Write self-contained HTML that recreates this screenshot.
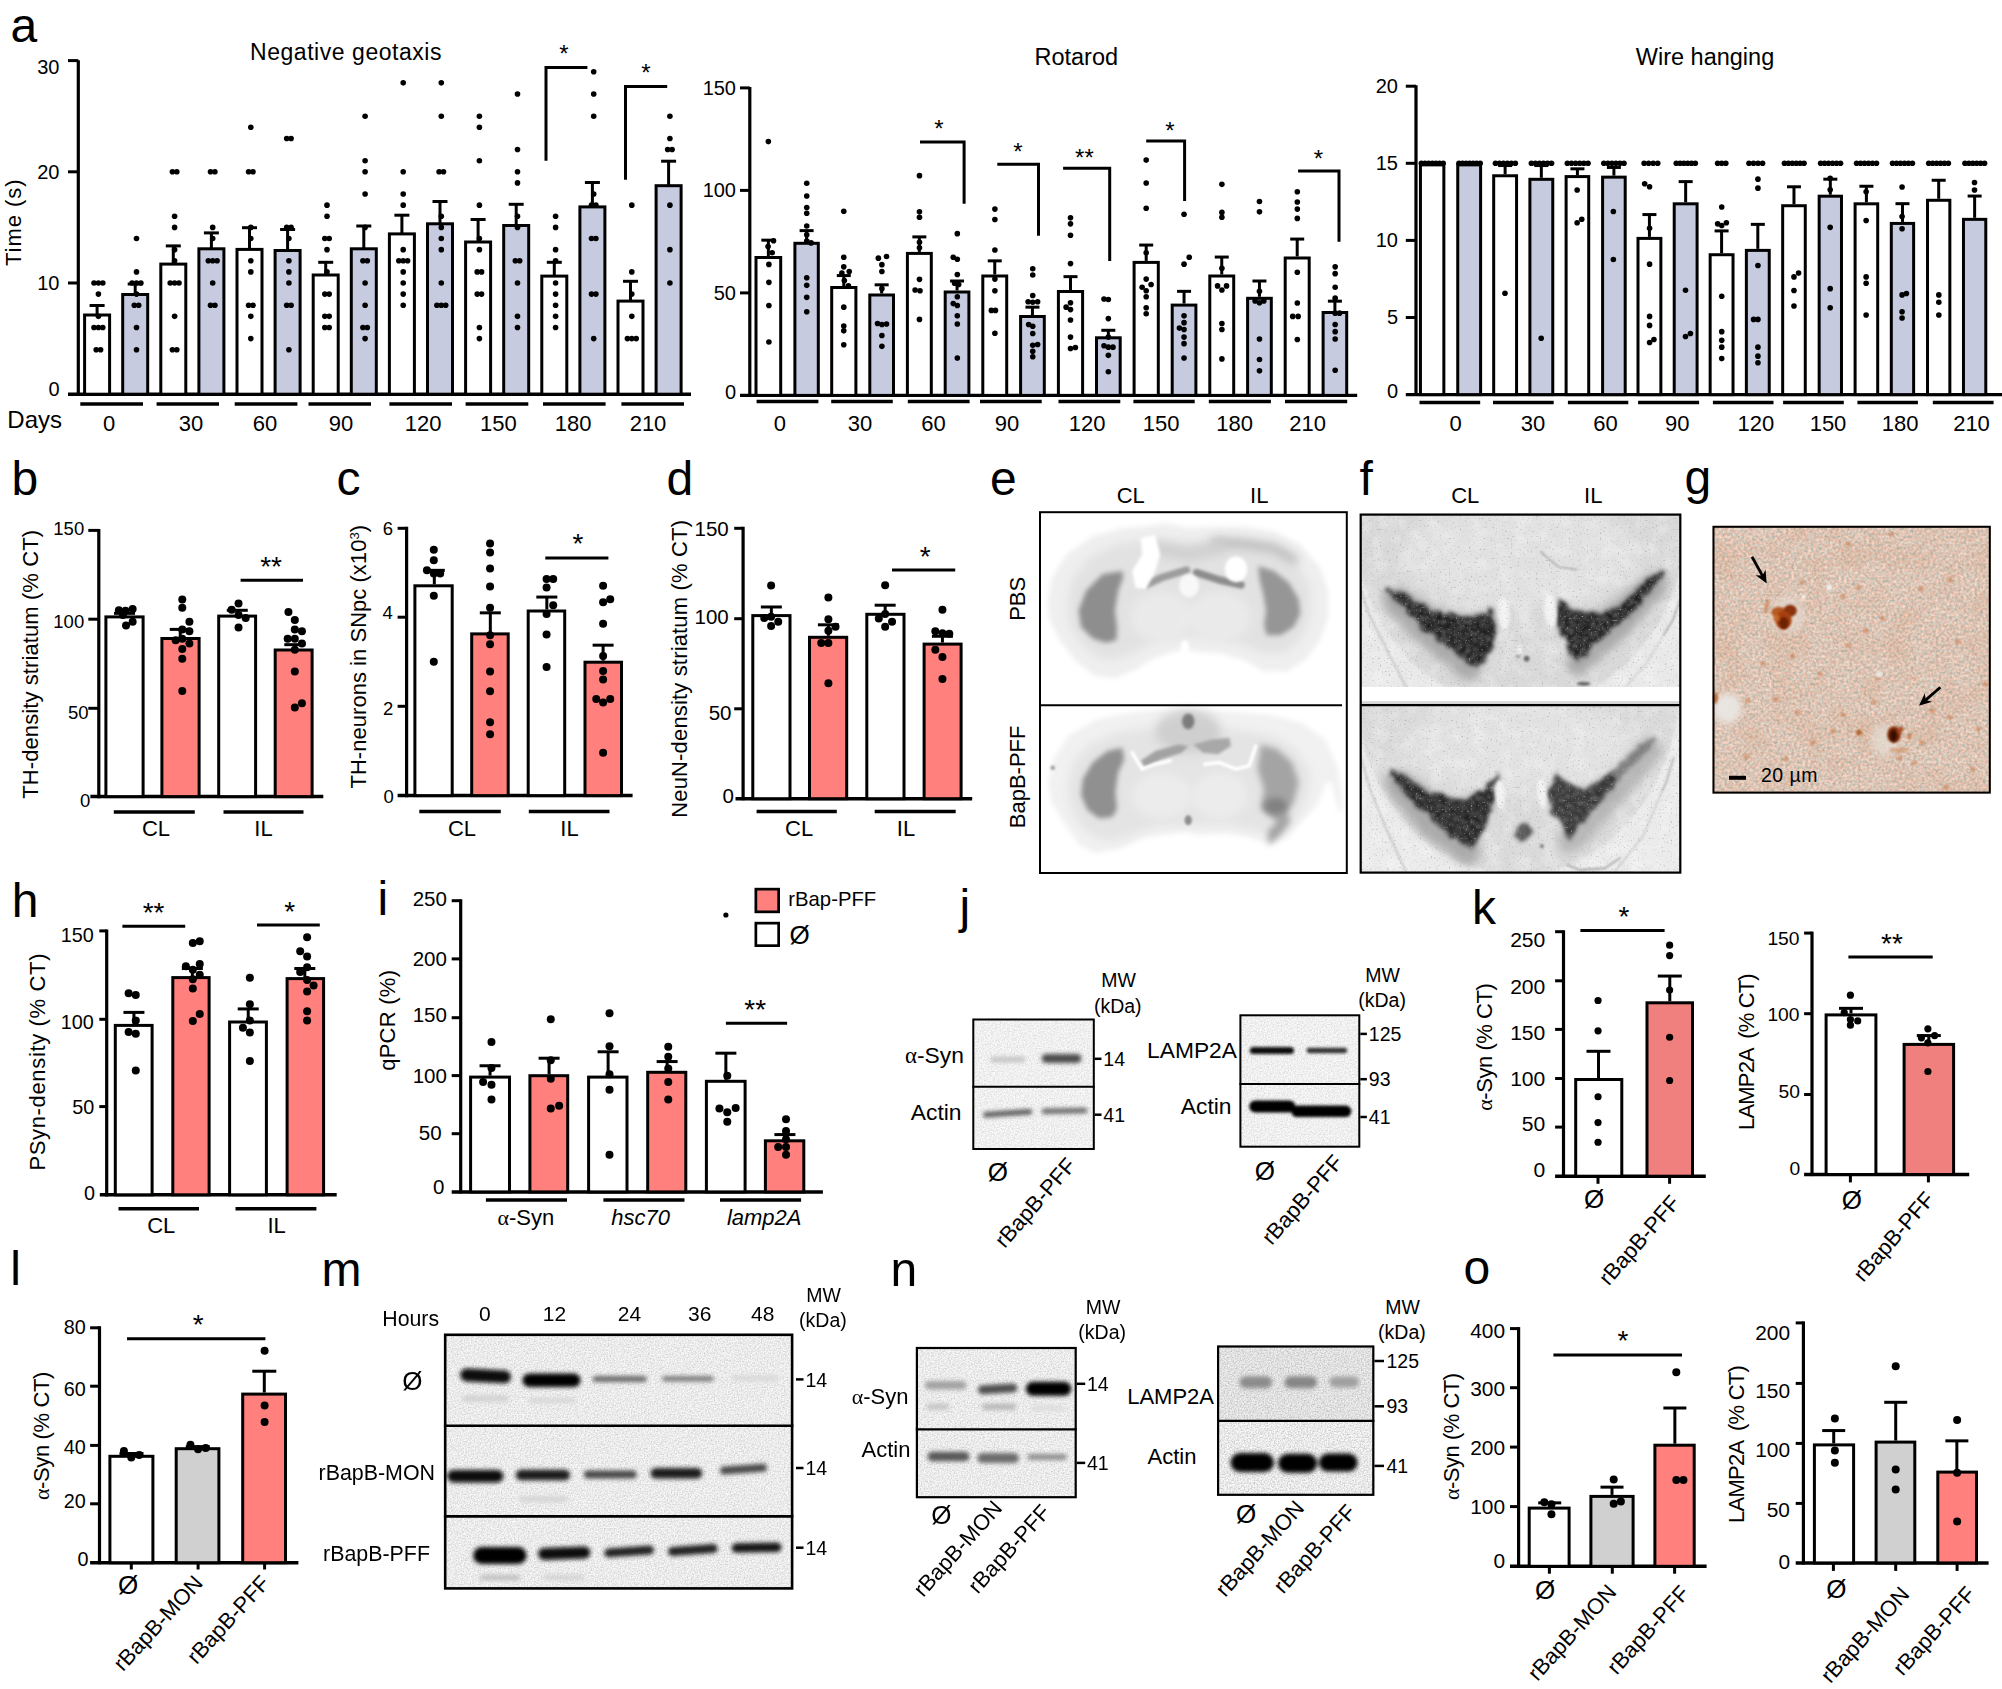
<!DOCTYPE html>
<html lang="en"><head><meta charset="utf-8"><title>Figure</title>
<style>
html,body{margin:0;padding:0;background:#fff}
svg{display:block}
text{font-family:"Liberation Sans",Arial,Helvetica,sans-serif;fill:#000}
</style></head><body>
<svg width="2002" height="1689" viewBox="0 0 2002 1689">
<rect width="2002" height="1689" fill="#fff"/>
<defs>
<filter id="b10" x="-20%" y="-150%" width="140%" height="400%"><feGaussianBlur stdDeviation="1"/></filter>
<filter id="b15" x="-20%" y="-150%" width="140%" height="400%"><feGaussianBlur stdDeviation="1.5"/></filter>
<filter id="b18" x="-20%" y="-150%" width="140%" height="400%"><feGaussianBlur stdDeviation="1.8"/></filter>
<filter id="b22" x="-20%" y="-150%" width="140%" height="400%"><feGaussianBlur stdDeviation="2.2"/></filter>
<filter id="grain" x="0" y="0" width="100%" height="100%" color-interpolation-filters="sRGB"><feTurbulence type="fractalNoise" baseFrequency="0.7" numOctaves="2" seed="2"/><feColorMatrix type="matrix" values="0 0 0 0 0.4  0 0 0 0 0.4  0 0 0 0 0.4  1.4 0 0 0 -0.5"/></filter>
<filter id="b3" x="-30%" y="-30%" width="160%" height="160%"><feGaussianBlur stdDeviation="3"/></filter>
<filter id="b5" x="-30%" y="-30%" width="160%" height="160%"><feGaussianBlur stdDeviation="5"/></filter>
<filter id="b8" x="-30%" y="-30%" width="160%" height="160%"><feGaussianBlur stdDeviation="8"/></filter>
<clipPath id="cpe"><rect x="1039" y="511.5" width="308.8" height="362.2"/></clipPath>
<filter id="Eb25" filterUnits="userSpaceOnUse" x="1030" y="505" width="330" height="380"><feGaussianBlur stdDeviation="2.5"/></filter>
<filter id="Eb5" filterUnits="userSpaceOnUse" x="1030" y="505" width="330" height="380"><feGaussianBlur stdDeviation="5"/></filter>
<filter id="Eb15" filterUnits="userSpaceOnUse" x="1030" y="505" width="330" height="380"><feGaussianBlur stdDeviation="1.5"/></filter>
<filter id="Eb18" filterUnits="userSpaceOnUse" x="1030" y="505" width="330" height="380"><feGaussianBlur stdDeviation="1.8"/></filter>
<filter id="Eb3" filterUnits="userSpaceOnUse" x="1030" y="505" width="330" height="380"><feGaussianBlur stdDeviation="3"/></filter>
<filter id="Eb10" filterUnits="userSpaceOnUse" x="1030" y="505" width="330" height="380"><feGaussianBlur stdDeviation="1"/></filter>
<clipPath id="cpf"><rect x="1359.6" y="513.5" width="321.8" height="360.2"/></clipPath>
<clipPath id="cpf1"><rect x="1359.6" y="513.5" width="321.8" height="173.5"/></clipPath>
<clipPath id="cpf2"><rect x="1359.6" y="705.2" width="321.8" height="168.5"/></clipPath>
<filter id="Fv" filterUnits="userSpaceOnUse" x="1350" y="505" width="340" height="380"><feTurbulence type="fractalNoise" baseFrequency="0.11" numOctaves="2" seed="3" result="t"/><feDisplacementMap in="SourceGraphic" in2="t" scale="9" xChannelSelector="R" yChannelSelector="G" result="d"/><feGaussianBlur in="d" stdDeviation="1.4" result="b"/><feTurbulence type="fractalNoise" baseFrequency="0.42" numOctaves="1" seed="8" result="n"/><feColorMatrix in="n" type="matrix" values="0 0 0 0 0.45  0 0 0 0 0.45  0 0 0 0 0.45  2.2 0 0 0 -1.2" result="n2"/><feComposite in="n2" in2="b" operator="in" result="n3"/><feMerge result="m"><feMergeNode in="b"/><feMergeNode in="n3"/></feMerge><feGaussianBlur in="m" stdDeviation="1.5"/></filter>
<filter id="Fs" filterUnits="userSpaceOnUse" x="1350" y="505" width="340" height="380"><feTurbulence type="fractalNoise" baseFrequency="0.55" numOctaves="1" seed="11" result="n"/><feColorMatrix in="n" type="matrix" values="0 0 0 0 0.4  0 0 0 0 0.4  0 0 0 0 0.4  0 5 0 0 -3.1" result="n2"/><feGaussianBlur in="n2" stdDeviation="0.6"/></filter>
<filter id="Fm" filterUnits="userSpaceOnUse" x="1350" y="505" width="340" height="380"><feTurbulence type="fractalNoise" baseFrequency="0.07" numOctaves="3" seed="5" result="n"/><feColorMatrix in="n" type="matrix" values="0 0 0 0 1  0 0 0 0 1  0 0 0 0 1  0 1.6 0 0 -0.62"/></filter>
<filter id="Fb15" filterUnits="userSpaceOnUse" x="1350" y="505" width="340" height="380"><feGaussianBlur stdDeviation="1.5"/></filter>
<filter id="Fb8" filterUnits="userSpaceOnUse" x="1350" y="505" width="340" height="380"><feGaussianBlur stdDeviation="8"/></filter>
<filter id="Fb5" filterUnits="userSpaceOnUse" x="1350" y="505" width="340" height="380"><feGaussianBlur stdDeviation="5"/></filter>
<filter id="Fb3" filterUnits="userSpaceOnUse" x="1350" y="505" width="340" height="380"><feGaussianBlur stdDeviation="3"/></filter>
<filter id="Fb10" filterUnits="userSpaceOnUse" x="1350" y="505" width="340" height="380"><feGaussianBlur stdDeviation="1"/></filter>
<filter id="Fb07" filterUnits="userSpaceOnUse" x="1350" y="505" width="340" height="380"><feGaussianBlur stdDeviation="0.85"/></filter>
<clipPath id="cpg"><rect x="1712.5" y="525.8" width="278.3" height="267.8"/></clipPath>
<filter id="gn" filterUnits="userSpaceOnUse" x="1705" y="518" width="295" height="285" color-interpolation-filters="sRGB"><feTurbulence type="fractalNoise" baseFrequency="0.36" numOctaves="2" seed="4"/><feColorMatrix type="matrix" values="0.35 0.3 0 0 0.535  0 0.3 0 0 0.625  -0.05 0.3 0 0 0.59  0 0 0 0 1"/></filter>
<filter id="gm" filterUnits="userSpaceOnUse" x="1705" y="518" width="295" height="285" color-interpolation-filters="sRGB"><feTurbulence type="fractalNoise" baseFrequency="0.035" numOctaves="2" seed="9"/><feColorMatrix type="matrix" values="0 0 0 0 0.82  0 0 0 0 0.52  0 0 0 0 0.36  2.2 0 0 0 -0.95"/></filter>
<filter id="Gb10" filterUnits="userSpaceOnUse" x="1705" y="518" width="295" height="285"><feGaussianBlur stdDeviation="1"/></filter>
<filter id="Gb3" filterUnits="userSpaceOnUse" x="1705" y="518" width="295" height="285"><feGaussianBlur stdDeviation="3"/></filter>
<filter id="Gb07" filterUnits="userSpaceOnUse" x="1705" y="518" width="295" height="285"><feGaussianBlur stdDeviation="0.85"/></filter>
<clipPath id="cp1"><rect x="972.3" y="1018.5" width="122.5" height="131.5"/></clipPath>
<clipPath id="cp2"><rect x="1239.4" y="1014.3" width="120.9" height="133.4"/></clipPath>
<clipPath id="cp3"><rect x="443.9" y="1333.5" width="349.5" height="256.2"/></clipPath>
<clipPath id="cp4"><rect x="915.8" y="1346.9" width="161" height="151.4"/></clipPath>
<clipPath id="cp5"><rect x="1217" y="1345.4" width="157.4" height="150.5"/></clipPath></defs>
<g id="panel_a">
<text x="10.5" y="42" font-size="48" text-anchor="start">a</text>
<line x1="78.3" y1="60.2" x2="78.3" y2="395.3" stroke="#000" stroke-width="3.2" stroke-linecap="butt"/>
<line x1="68" y1="394.2" x2="691" y2="394.2" stroke="#000" stroke-width="3.5" stroke-linecap="butt"/>
<line x1="68" y1="283" x2="78.3" y2="283" stroke="#000" stroke-width="3" stroke-linecap="butt"/>
<line x1="68" y1="171.8" x2="78.3" y2="171.8" stroke="#000" stroke-width="3" stroke-linecap="butt"/>
<line x1="68" y1="60.6" x2="78.3" y2="60.6" stroke="#000" stroke-width="3" stroke-linecap="butt"/>
<text x="59.5" y="396.2" font-size="20" text-anchor="end">0</text>
<text x="59.5" y="290" font-size="20" text-anchor="end">10</text>
<text x="59.5" y="178.8" font-size="20" text-anchor="end">20</text>
<text x="59.5" y="73.6" font-size="20" text-anchor="end">30</text>
<text x="250" y="60" font-size="23" text-anchor="start" textLength="191.5" lengthAdjust="spacing">Negative geotaxis</text>
<text x="21.2" y="266" font-size="22" text-anchor="start" transform="rotate(-90 21.2 266)" textLength="86.5" lengthAdjust="spacing">Time (s)</text>
<text x="7.3" y="427.8" font-size="24" text-anchor="start">Days</text>
<rect x="84.6" y="315" width="25" height="79.2" fill="#fff" stroke="#000" stroke-width="3"/>
<line x1="97.1" y1="314.5" x2="97.1" y2="305.5" stroke="#000" stroke-width="3" stroke-linecap="butt"/>
<line x1="89.6" y1="305.5" x2="104.6" y2="305.5" stroke="#000" stroke-width="3" stroke-linecap="butt"/>
<circle cx="94" cy="283" r="2.8"/>
<circle cx="98.4" cy="283" r="2.8"/>
<circle cx="102.8" cy="283" r="2.8"/>
<circle cx="98.4" cy="294.12" r="2.8"/>
<circle cx="98.4" cy="316.36" r="2.8"/>
<circle cx="94" cy="327.48" r="2.8"/>
<circle cx="98.4" cy="327.48" r="2.8"/>
<circle cx="102.8" cy="327.48" r="2.8"/>
<circle cx="96.2" cy="349.72" r="2.8"/>
<circle cx="100.6" cy="349.72" r="2.8"/>
<rect x="122.7" y="294.5" width="25" height="99.7" fill="#c6cbdf" stroke="#000" stroke-width="3"/>
<line x1="135.2" y1="294" x2="135.2" y2="284" stroke="#000" stroke-width="3" stroke-linecap="butt"/>
<line x1="127.7" y1="284" x2="142.7" y2="284" stroke="#000" stroke-width="3" stroke-linecap="butt"/>
<circle cx="136.5" cy="238.52" r="2.8"/>
<circle cx="136.5" cy="271.88" r="2.8"/>
<circle cx="132.1" cy="283" r="2.8"/>
<circle cx="136.5" cy="283" r="2.8"/>
<circle cx="140.9" cy="283" r="2.8"/>
<circle cx="136.5" cy="294.12" r="2.8"/>
<circle cx="134.3" cy="305.24" r="2.8"/>
<circle cx="138.7" cy="305.24" r="2.8"/>
<circle cx="136.5" cy="327.48" r="2.8"/>
<circle cx="136.5" cy="349.72" r="2.8"/>
<rect x="160.8" y="264.1" width="25" height="130.1" fill="#fff" stroke="#000" stroke-width="3"/>
<line x1="173.3" y1="263.6" x2="173.3" y2="245.9" stroke="#000" stroke-width="3" stroke-linecap="butt"/>
<line x1="165.8" y1="245.9" x2="180.8" y2="245.9" stroke="#000" stroke-width="3" stroke-linecap="butt"/>
<circle cx="172.4" cy="171.8" r="2.8"/>
<circle cx="176.8" cy="171.8" r="2.8"/>
<circle cx="174.6" cy="216.28" r="2.8"/>
<circle cx="174.6" cy="227.4" r="2.8"/>
<circle cx="174.6" cy="249.64" r="2.8"/>
<circle cx="174.6" cy="260.76" r="2.8"/>
<circle cx="170.2" cy="283" r="2.8"/>
<circle cx="174.6" cy="283" r="2.8"/>
<circle cx="179" cy="283" r="2.8"/>
<circle cx="174.6" cy="316.36" r="2.8"/>
<circle cx="172.4" cy="349.72" r="2.8"/>
<circle cx="176.8" cy="349.72" r="2.8"/>
<rect x="198.9" y="248.8" width="25" height="145.4" fill="#c6cbdf" stroke="#000" stroke-width="3"/>
<line x1="211.4" y1="248.3" x2="211.4" y2="232.9" stroke="#000" stroke-width="3" stroke-linecap="butt"/>
<line x1="203.9" y1="232.9" x2="218.9" y2="232.9" stroke="#000" stroke-width="3" stroke-linecap="butt"/>
<circle cx="210.5" cy="171.8" r="2.8"/>
<circle cx="214.9" cy="171.8" r="2.8"/>
<circle cx="212.7" cy="227.4" r="2.8"/>
<circle cx="212.7" cy="238.52" r="2.8"/>
<circle cx="208.3" cy="260.76" r="2.8"/>
<circle cx="212.7" cy="260.76" r="2.8"/>
<circle cx="217.1" cy="260.76" r="2.8"/>
<circle cx="212.7" cy="283" r="2.8"/>
<circle cx="210.5" cy="305.24" r="2.8"/>
<circle cx="214.9" cy="305.24" r="2.8"/>
<rect x="237" y="249.4" width="25" height="144.8" fill="#fff" stroke="#000" stroke-width="3"/>
<line x1="249.5" y1="248.9" x2="249.5" y2="227.7" stroke="#000" stroke-width="3" stroke-linecap="butt"/>
<line x1="242" y1="227.7" x2="257" y2="227.7" stroke="#000" stroke-width="3" stroke-linecap="butt"/>
<circle cx="250.8" cy="127.32" r="2.8"/>
<circle cx="248.6" cy="171.8" r="2.8"/>
<circle cx="253" cy="171.8" r="2.8"/>
<circle cx="250.8" cy="227.4" r="2.8"/>
<circle cx="250.8" cy="238.52" r="2.8"/>
<circle cx="250.8" cy="260.76" r="2.8"/>
<circle cx="250.8" cy="271.88" r="2.8"/>
<circle cx="248.6" cy="305.24" r="2.8"/>
<circle cx="253" cy="305.24" r="2.8"/>
<circle cx="250.8" cy="316.36" r="2.8"/>
<circle cx="250.8" cy="338.6" r="2.8"/>
<rect x="275.1" y="250.5" width="25" height="143.7" fill="#c6cbdf" stroke="#000" stroke-width="3"/>
<line x1="287.6" y1="250" x2="287.6" y2="229.5" stroke="#000" stroke-width="3" stroke-linecap="butt"/>
<line x1="280.1" y1="229.5" x2="295.1" y2="229.5" stroke="#000" stroke-width="3" stroke-linecap="butt"/>
<circle cx="286.7" cy="138.44" r="2.8"/>
<circle cx="291.1" cy="138.44" r="2.8"/>
<circle cx="286.7" cy="227.4" r="2.8"/>
<circle cx="291.1" cy="227.4" r="2.8"/>
<circle cx="288.9" cy="238.52" r="2.8"/>
<circle cx="288.9" cy="260.76" r="2.8"/>
<circle cx="288.9" cy="271.88" r="2.8"/>
<circle cx="288.9" cy="283" r="2.8"/>
<circle cx="286.7" cy="305.24" r="2.8"/>
<circle cx="291.1" cy="305.24" r="2.8"/>
<circle cx="288.9" cy="349.72" r="2.8"/>
<rect x="313.2" y="275" width="25" height="119.2" fill="#fff" stroke="#000" stroke-width="3"/>
<line x1="325.7" y1="274.5" x2="325.7" y2="262.3" stroke="#000" stroke-width="3" stroke-linecap="butt"/>
<line x1="318.2" y1="262.3" x2="333.2" y2="262.3" stroke="#000" stroke-width="3" stroke-linecap="butt"/>
<circle cx="327" cy="205.16" r="2.8"/>
<circle cx="327" cy="216.28" r="2.8"/>
<circle cx="324.8" cy="238.52" r="2.8"/>
<circle cx="329.2" cy="238.52" r="2.8"/>
<circle cx="327" cy="249.64" r="2.8"/>
<circle cx="327" cy="271.88" r="2.8"/>
<circle cx="324.8" cy="294.12" r="2.8"/>
<circle cx="329.2" cy="294.12" r="2.8"/>
<circle cx="324.8" cy="316.36" r="2.8"/>
<circle cx="329.2" cy="316.36" r="2.8"/>
<circle cx="324.8" cy="327.48" r="2.8"/>
<circle cx="329.2" cy="327.48" r="2.8"/>
<rect x="351.3" y="248.8" width="25" height="145.4" fill="#c6cbdf" stroke="#000" stroke-width="3"/>
<line x1="363.8" y1="248.3" x2="363.8" y2="226" stroke="#000" stroke-width="3" stroke-linecap="butt"/>
<line x1="356.3" y1="226" x2="371.3" y2="226" stroke="#000" stroke-width="3" stroke-linecap="butt"/>
<circle cx="365.1" cy="116.2" r="2.8"/>
<circle cx="365.1" cy="160.68" r="2.8"/>
<circle cx="365.1" cy="171.8" r="2.8"/>
<circle cx="365.1" cy="194.04" r="2.8"/>
<circle cx="365.1" cy="227.4" r="2.8"/>
<circle cx="362.9" cy="260.76" r="2.8"/>
<circle cx="367.3" cy="260.76" r="2.8"/>
<circle cx="365.1" cy="283" r="2.8"/>
<circle cx="365.1" cy="305.24" r="2.8"/>
<circle cx="362.9" cy="327.48" r="2.8"/>
<circle cx="367.3" cy="327.48" r="2.8"/>
<circle cx="365.1" cy="338.6" r="2.8"/>
<rect x="389.4" y="233.9" width="25" height="160.3" fill="#fff" stroke="#000" stroke-width="3"/>
<line x1="401.9" y1="233.4" x2="401.9" y2="215.2" stroke="#000" stroke-width="3" stroke-linecap="butt"/>
<line x1="394.4" y1="215.2" x2="409.4" y2="215.2" stroke="#000" stroke-width="3" stroke-linecap="butt"/>
<circle cx="403.2" cy="82.84" r="2.8"/>
<circle cx="403.2" cy="171.8" r="2.8"/>
<circle cx="403.2" cy="194.04" r="2.8"/>
<circle cx="403.2" cy="205.16" r="2.8"/>
<circle cx="403.2" cy="249.64" r="2.8"/>
<circle cx="398.8" cy="260.76" r="2.8"/>
<circle cx="403.2" cy="260.76" r="2.8"/>
<circle cx="407.6" cy="260.76" r="2.8"/>
<circle cx="403.2" cy="271.88" r="2.8"/>
<circle cx="403.2" cy="283" r="2.8"/>
<circle cx="403.2" cy="294.12" r="2.8"/>
<circle cx="403.2" cy="305.24" r="2.8"/>
<rect x="427.5" y="223.8" width="25" height="170.4" fill="#c6cbdf" stroke="#000" stroke-width="3"/>
<line x1="440" y1="223.3" x2="440" y2="201.5" stroke="#000" stroke-width="3" stroke-linecap="butt"/>
<line x1="432.5" y1="201.5" x2="447.5" y2="201.5" stroke="#000" stroke-width="3" stroke-linecap="butt"/>
<circle cx="441.3" cy="82.84" r="2.8"/>
<circle cx="441.3" cy="116.2" r="2.8"/>
<circle cx="439.1" cy="171.8" r="2.8"/>
<circle cx="443.5" cy="171.8" r="2.8"/>
<circle cx="441.3" cy="216.28" r="2.8"/>
<circle cx="441.3" cy="227.4" r="2.8"/>
<circle cx="441.3" cy="238.52" r="2.8"/>
<circle cx="441.3" cy="249.64" r="2.8"/>
<circle cx="441.3" cy="283" r="2.8"/>
<circle cx="436.9" cy="305.24" r="2.8"/>
<circle cx="441.3" cy="305.24" r="2.8"/>
<circle cx="445.7" cy="305.24" r="2.8"/>
<rect x="465.6" y="242" width="25" height="152.2" fill="#fff" stroke="#000" stroke-width="3"/>
<line x1="478.1" y1="241.5" x2="478.1" y2="219.5" stroke="#000" stroke-width="3" stroke-linecap="butt"/>
<line x1="470.6" y1="219.5" x2="485.6" y2="219.5" stroke="#000" stroke-width="3" stroke-linecap="butt"/>
<circle cx="479.4" cy="116.2" r="2.8"/>
<circle cx="479.4" cy="127.32" r="2.8"/>
<circle cx="479.4" cy="160.68" r="2.8"/>
<circle cx="479.4" cy="205.16" r="2.8"/>
<circle cx="479.4" cy="238.52" r="2.8"/>
<circle cx="479.4" cy="249.64" r="2.8"/>
<circle cx="477.2" cy="271.88" r="2.8"/>
<circle cx="481.6" cy="271.88" r="2.8"/>
<circle cx="477.2" cy="294.12" r="2.8"/>
<circle cx="481.6" cy="294.12" r="2.8"/>
<circle cx="479.4" cy="327.48" r="2.8"/>
<circle cx="479.4" cy="338.6" r="2.8"/>
<rect x="503.7" y="225.5" width="25" height="168.7" fill="#c6cbdf" stroke="#000" stroke-width="3"/>
<line x1="516.2" y1="225" x2="516.2" y2="204.3" stroke="#000" stroke-width="3" stroke-linecap="butt"/>
<line x1="508.7" y1="204.3" x2="523.7" y2="204.3" stroke="#000" stroke-width="3" stroke-linecap="butt"/>
<circle cx="517.5" cy="93.96" r="2.8"/>
<circle cx="517.5" cy="149.56" r="2.8"/>
<circle cx="517.5" cy="171.8" r="2.8"/>
<circle cx="517.5" cy="182.92" r="2.8"/>
<circle cx="517.5" cy="216.28" r="2.8"/>
<circle cx="517.5" cy="227.4" r="2.8"/>
<circle cx="515.3" cy="260.76" r="2.8"/>
<circle cx="519.7" cy="260.76" r="2.8"/>
<circle cx="517.5" cy="283" r="2.8"/>
<circle cx="517.5" cy="316.36" r="2.8"/>
<circle cx="517.5" cy="327.48" r="2.8"/>
<rect x="541.8" y="276.1" width="25" height="118.1" fill="#fff" stroke="#000" stroke-width="3"/>
<line x1="554.3" y1="275.6" x2="554.3" y2="262.3" stroke="#000" stroke-width="3" stroke-linecap="butt"/>
<line x1="546.8" y1="262.3" x2="561.8" y2="262.3" stroke="#000" stroke-width="3" stroke-linecap="butt"/>
<circle cx="555.6" cy="216.28" r="2.8"/>
<circle cx="555.6" cy="227.4" r="2.8"/>
<circle cx="555.6" cy="249.64" r="2.8"/>
<circle cx="555.6" cy="260.76" r="2.8"/>
<circle cx="555.6" cy="283" r="2.8"/>
<circle cx="555.6" cy="294.12" r="2.8"/>
<circle cx="555.6" cy="305.24" r="2.8"/>
<circle cx="555.6" cy="316.36" r="2.8"/>
<circle cx="555.6" cy="327.48" r="2.8"/>
<rect x="579.9" y="206.9" width="25" height="187.3" fill="#c6cbdf" stroke="#000" stroke-width="3"/>
<line x1="592.4" y1="206.4" x2="592.4" y2="182.5" stroke="#000" stroke-width="3" stroke-linecap="butt"/>
<line x1="584.9" y1="182.5" x2="599.9" y2="182.5" stroke="#000" stroke-width="3" stroke-linecap="butt"/>
<circle cx="593.7" cy="71.72" r="2.8"/>
<circle cx="593.7" cy="93.96" r="2.8"/>
<circle cx="593.7" cy="116.2" r="2.8"/>
<circle cx="593.7" cy="194.04" r="2.8"/>
<circle cx="591.5" cy="205.16" r="2.8"/>
<circle cx="595.9" cy="205.16" r="2.8"/>
<circle cx="591.5" cy="238.52" r="2.8"/>
<circle cx="595.9" cy="238.52" r="2.8"/>
<circle cx="591.5" cy="294.12" r="2.8"/>
<circle cx="595.9" cy="294.12" r="2.8"/>
<circle cx="593.7" cy="338.6" r="2.8"/>
<rect x="618" y="301.1" width="25" height="93.1" fill="#fff" stroke="#000" stroke-width="3"/>
<line x1="630.5" y1="300.6" x2="630.5" y2="281.3" stroke="#000" stroke-width="3" stroke-linecap="butt"/>
<line x1="623" y1="281.3" x2="638" y2="281.3" stroke="#000" stroke-width="3" stroke-linecap="butt"/>
<circle cx="631.8" cy="205.16" r="2.8"/>
<circle cx="631.8" cy="271.88" r="2.8"/>
<circle cx="631.8" cy="294.12" r="2.8"/>
<circle cx="631.8" cy="316.36" r="2.8"/>
<circle cx="627.4" cy="338.6" r="2.8"/>
<circle cx="631.8" cy="338.6" r="2.8"/>
<circle cx="636.2" cy="338.6" r="2.8"/>
<rect x="656.1" y="185.7" width="25" height="208.5" fill="#c6cbdf" stroke="#000" stroke-width="3"/>
<line x1="668.6" y1="185.2" x2="668.6" y2="161.2" stroke="#000" stroke-width="3" stroke-linecap="butt"/>
<line x1="661.1" y1="161.2" x2="676.1" y2="161.2" stroke="#000" stroke-width="3" stroke-linecap="butt"/>
<circle cx="669.9" cy="116.2" r="2.8"/>
<circle cx="669.9" cy="138.44" r="2.8"/>
<circle cx="667.7" cy="149.56" r="2.8"/>
<circle cx="672.1" cy="149.56" r="2.8"/>
<circle cx="669.9" cy="205.16" r="2.8"/>
<circle cx="669.9" cy="249.64" r="2.8"/>
<circle cx="669.9" cy="283" r="2.8"/>
<line x1="80.3" y1="404" x2="143" y2="404" stroke="#000" stroke-width="3.5" stroke-linecap="butt"/>
<line x1="156.6" y1="404" x2="219" y2="404" stroke="#000" stroke-width="3.5" stroke-linecap="butt"/>
<line x1="234.7" y1="404" x2="297.4" y2="404" stroke="#000" stroke-width="3.5" stroke-linecap="butt"/>
<line x1="308.5" y1="404" x2="371" y2="404" stroke="#000" stroke-width="3.5" stroke-linecap="butt"/>
<line x1="389.4" y1="404" x2="452" y2="404" stroke="#000" stroke-width="3.5" stroke-linecap="butt"/>
<line x1="465.6" y1="404" x2="528.3" y2="404" stroke="#000" stroke-width="3.5" stroke-linecap="butt"/>
<line x1="543" y1="404" x2="605.6" y2="404" stroke="#000" stroke-width="3.5" stroke-linecap="butt"/>
<line x1="621.4" y1="404" x2="684" y2="404" stroke="#000" stroke-width="3.5" stroke-linecap="butt"/>
<text x="109" y="431.3" font-size="22" text-anchor="middle">0</text>
<text x="191" y="431.3" font-size="22" text-anchor="middle">30</text>
<text x="265" y="431.3" font-size="22" text-anchor="middle">60</text>
<text x="341" y="431.3" font-size="22" text-anchor="middle">90</text>
<text x="423.2" y="431.3" font-size="22" text-anchor="middle">120</text>
<text x="498.3" y="431.3" font-size="22" text-anchor="middle">150</text>
<text x="573.2" y="431.3" font-size="22" text-anchor="middle">180</text>
<text x="648" y="431.3" font-size="22" text-anchor="middle">210</text>
<polyline points="546,160.7 546,67.5 587.4,67.5" fill="none" stroke="#000" stroke-width="3"/>
<polyline points="625.5,179.7 625.5,86.6 667.2,86.6" fill="none" stroke="#000" stroke-width="3"/>
<text x="564" y="61.7" font-size="24" text-anchor="middle">*</text>
<text x="646" y="80.7" font-size="24" text-anchor="middle">*</text>
<line x1="749.8" y1="87" x2="749.8" y2="396.5" stroke="#000" stroke-width="3.2" stroke-linecap="butt"/>
<line x1="740" y1="395.4" x2="1357.2" y2="395.4" stroke="#000" stroke-width="3.2" stroke-linecap="butt"/>
<line x1="740" y1="292.9" x2="749.8" y2="292.9" stroke="#000" stroke-width="3" stroke-linecap="butt"/>
<line x1="740" y1="190.4" x2="749.8" y2="190.4" stroke="#000" stroke-width="3" stroke-linecap="butt"/>
<line x1="740" y1="87.9" x2="749.8" y2="87.9" stroke="#000" stroke-width="3" stroke-linecap="butt"/>
<text x="736" y="399" font-size="20" text-anchor="end">0</text>
<text x="736" y="299.5" font-size="20" text-anchor="end">50</text>
<text x="736" y="197" font-size="20" text-anchor="end">100</text>
<text x="736" y="94.5" font-size="20" text-anchor="end">150</text>
<text x="1076.3" y="64.8" font-size="23.5" text-anchor="middle">Rotarod</text>
<rect x="756" y="257.5" width="24.7" height="137.9" fill="#fff" stroke="#000" stroke-width="3"/>
<line x1="768.35" y1="256" x2="768.35" y2="240.16" stroke="#000" stroke-width="3" stroke-linecap="butt"/>
<line x1="761.35" y1="240.16" x2="775.35" y2="240.16" stroke="#000" stroke-width="3" stroke-linecap="butt"/>
<rect x="794.9" y="243.3" width="23.4" height="152.1" fill="#c6cbdf" stroke="#000" stroke-width="3"/>
<line x1="806.6" y1="241.8" x2="806.6" y2="230.63" stroke="#000" stroke-width="3" stroke-linecap="butt"/>
<line x1="799.6" y1="230.63" x2="813.6" y2="230.63" stroke="#000" stroke-width="3" stroke-linecap="butt"/>
<rect x="831.7" y="287.5" width="24.2" height="107.9" fill="#fff" stroke="#000" stroke-width="3"/>
<line x1="843.8" y1="286" x2="843.8" y2="275.56" stroke="#000" stroke-width="3" stroke-linecap="butt"/>
<line x1="836.8" y1="275.56" x2="850.8" y2="275.56" stroke="#000" stroke-width="3" stroke-linecap="butt"/>
<rect x="869.8" y="295" width="23.7" height="100.4" fill="#c6cbdf" stroke="#000" stroke-width="3"/>
<line x1="881.65" y1="293.5" x2="881.65" y2="284.82" stroke="#000" stroke-width="3" stroke-linecap="butt"/>
<line x1="874.65" y1="284.82" x2="888.65" y2="284.82" stroke="#000" stroke-width="3" stroke-linecap="butt"/>
<rect x="907.4" y="253.4" width="23.9" height="142" fill="#fff" stroke="#000" stroke-width="3"/>
<line x1="919.35" y1="251.9" x2="919.35" y2="236.9" stroke="#000" stroke-width="3" stroke-linecap="butt"/>
<line x1="912.35" y1="236.9" x2="926.35" y2="236.9" stroke="#000" stroke-width="3" stroke-linecap="butt"/>
<rect x="945.2" y="292" width="23.7" height="103.4" fill="#c6cbdf" stroke="#000" stroke-width="3"/>
<line x1="957.05" y1="290.5" x2="957.05" y2="281.01" stroke="#000" stroke-width="3" stroke-linecap="butt"/>
<line x1="950.05" y1="281.01" x2="964.05" y2="281.01" stroke="#000" stroke-width="3" stroke-linecap="butt"/>
<rect x="982.8" y="276" width="23.9" height="119.4" fill="#fff" stroke="#000" stroke-width="3"/>
<line x1="994.75" y1="274.5" x2="994.75" y2="260.86" stroke="#000" stroke-width="3" stroke-linecap="butt"/>
<line x1="987.75" y1="260.86" x2="1001.75" y2="260.86" stroke="#000" stroke-width="3" stroke-linecap="butt"/>
<rect x="1020.6" y="316.5" width="23.7" height="78.9" fill="#c6cbdf" stroke="#000" stroke-width="3"/>
<line x1="1032.45" y1="315" x2="1032.45" y2="307.15" stroke="#000" stroke-width="3" stroke-linecap="butt"/>
<line x1="1025.45" y1="307.15" x2="1039.45" y2="307.15" stroke="#000" stroke-width="3" stroke-linecap="butt"/>
<rect x="1058.4" y="291.5" width="24.2" height="103.9" fill="#fff" stroke="#000" stroke-width="3"/>
<line x1="1070.5" y1="290" x2="1070.5" y2="276.65" stroke="#000" stroke-width="3" stroke-linecap="butt"/>
<line x1="1063.5" y1="276.65" x2="1077.5" y2="276.65" stroke="#000" stroke-width="3" stroke-linecap="butt"/>
<rect x="1096.5" y="337.8" width="23.7" height="57.6" fill="#c6cbdf" stroke="#000" stroke-width="3"/>
<line x1="1108.35" y1="336.3" x2="1108.35" y2="330.29" stroke="#000" stroke-width="3" stroke-linecap="butt"/>
<line x1="1101.35" y1="330.29" x2="1115.35" y2="330.29" stroke="#000" stroke-width="3" stroke-linecap="butt"/>
<rect x="1134.1" y="262.4" width="24.2" height="133" fill="#fff" stroke="#000" stroke-width="3"/>
<line x1="1146.2" y1="260.9" x2="1146.2" y2="245.06" stroke="#000" stroke-width="3" stroke-linecap="butt"/>
<line x1="1139.2" y1="245.06" x2="1153.2" y2="245.06" stroke="#000" stroke-width="3" stroke-linecap="butt"/>
<rect x="1172.2" y="305.1" width="23.7" height="90.3" fill="#c6cbdf" stroke="#000" stroke-width="3"/>
<line x1="1184.05" y1="303.6" x2="1184.05" y2="291.35" stroke="#000" stroke-width="3" stroke-linecap="butt"/>
<line x1="1177.05" y1="291.35" x2="1191.05" y2="291.35" stroke="#000" stroke-width="3" stroke-linecap="butt"/>
<rect x="1209.8" y="276" width="23.9" height="119.4" fill="#fff" stroke="#000" stroke-width="3"/>
<line x1="1221.75" y1="274.5" x2="1221.75" y2="257.05" stroke="#000" stroke-width="3" stroke-linecap="butt"/>
<line x1="1214.75" y1="257.05" x2="1228.75" y2="257.05" stroke="#000" stroke-width="3" stroke-linecap="butt"/>
<rect x="1247.6" y="298.3" width="23.7" height="97.1" fill="#c6cbdf" stroke="#000" stroke-width="3"/>
<line x1="1259.45" y1="296.8" x2="1259.45" y2="281.01" stroke="#000" stroke-width="3" stroke-linecap="butt"/>
<line x1="1252.45" y1="281.01" x2="1266.45" y2="281.01" stroke="#000" stroke-width="3" stroke-linecap="butt"/>
<rect x="1285.2" y="258" width="24" height="137.4" fill="#fff" stroke="#000" stroke-width="3"/>
<line x1="1297.2" y1="256.5" x2="1297.2" y2="239.07" stroke="#000" stroke-width="3" stroke-linecap="butt"/>
<line x1="1290.2" y1="239.07" x2="1304.2" y2="239.07" stroke="#000" stroke-width="3" stroke-linecap="butt"/>
<rect x="1323.1" y="312.5" width="23.6" height="82.9" fill="#c6cbdf" stroke="#000" stroke-width="3"/>
<line x1="1334.9" y1="311" x2="1334.9" y2="301.16" stroke="#000" stroke-width="3" stroke-linecap="butt"/>
<line x1="1327.9" y1="301.16" x2="1341.9" y2="301.16" stroke="#000" stroke-width="3" stroke-linecap="butt"/>
<circle cx="768.35" cy="141.59" r="2.8"/>
<circle cx="773.52" cy="240.71" r="2.8"/>
<circle cx="768.07" cy="246.43" r="2.8"/>
<circle cx="772.16" cy="252.69" r="2.8"/>
<circle cx="768.89" cy="264.4" r="2.8"/>
<circle cx="768.89" cy="282.37" r="2.8"/>
<circle cx="768.89" cy="305.51" r="2.8"/>
<circle cx="768.89" cy="342" r="2.8"/>
<circle cx="806.74" cy="183.25" r="2.8"/>
<circle cx="806.74" cy="196.05" r="2.8"/>
<circle cx="806.74" cy="207.49" r="2.8"/>
<circle cx="806.74" cy="213.21" r="2.8"/>
<circle cx="806.74" cy="226" r="2.8"/>
<circle cx="806.74" cy="234.72" r="2.8"/>
<circle cx="806.74" cy="240.98" r="2.8"/>
<circle cx="811.1" cy="242.89" r="2.8"/>
<circle cx="806.74" cy="277.74" r="2.8"/>
<circle cx="806.74" cy="285.36" r="2.8"/>
<circle cx="806.74" cy="297.35" r="2.8"/>
<circle cx="806.74" cy="311.78" r="2.8"/>
<circle cx="843.77" cy="211.3" r="2.8"/>
<circle cx="843.77" cy="257.32" r="2.8"/>
<circle cx="843.77" cy="266.85" r="2.8"/>
<circle cx="849.22" cy="271.48" r="2.8"/>
<circle cx="841.87" cy="273.11" r="2.8"/>
<circle cx="844.32" cy="280.46" r="2.8"/>
<circle cx="848.4" cy="285.91" r="2.8"/>
<circle cx="843.77" cy="307.15" r="2.8"/>
<circle cx="843.77" cy="325.94" r="2.8"/>
<circle cx="843.77" cy="330.84" r="2.8"/>
<circle cx="843.77" cy="344.72" r="2.8"/>
<circle cx="878.35" cy="258.13" r="2.8"/>
<circle cx="886.52" cy="256.5" r="2.8"/>
<circle cx="881.89" cy="264.67" r="2.8"/>
<circle cx="881.89" cy="271.48" r="2.8"/>
<circle cx="881.89" cy="288.63" r="2.8"/>
<circle cx="877.54" cy="323.49" r="2.8"/>
<circle cx="881.89" cy="324.57" r="2.8"/>
<circle cx="886.52" cy="324.03" r="2.8"/>
<circle cx="881.89" cy="335.47" r="2.8"/>
<circle cx="881.89" cy="346.36" r="2.8"/>
<circle cx="919.47" cy="175.63" r="2.8"/>
<circle cx="919.47" cy="211.84" r="2.8"/>
<circle cx="919.47" cy="217.29" r="2.8"/>
<circle cx="919.47" cy="242.34" r="2.8"/>
<circle cx="919.47" cy="247.79" r="2.8"/>
<circle cx="919.47" cy="279.37" r="2.8"/>
<circle cx="915.11" cy="289.99" r="2.8"/>
<circle cx="920.01" cy="290.81" r="2.8"/>
<circle cx="919.47" cy="319.4" r="2.8"/>
<circle cx="957.32" cy="233.63" r="2.8"/>
<circle cx="953.23" cy="257.32" r="2.8"/>
<circle cx="957.32" cy="259.22" r="2.8"/>
<circle cx="957.32" cy="274.47" r="2.8"/>
<circle cx="954.59" cy="283.19" r="2.8"/>
<circle cx="958.68" cy="284.55" r="2.8"/>
<circle cx="957.32" cy="296.8" r="2.8"/>
<circle cx="953.23" cy="303.61" r="2.8"/>
<circle cx="957.32" cy="305.51" r="2.8"/>
<circle cx="957.32" cy="315.86" r="2.8"/>
<circle cx="957.32" cy="324.03" r="2.8"/>
<circle cx="957.32" cy="358.07" r="2.8"/>
<circle cx="994.89" cy="209.12" r="2.8"/>
<circle cx="994.89" cy="219.47" r="2.8"/>
<circle cx="994.89" cy="249.97" r="2.8"/>
<circle cx="994.89" cy="279.1" r="2.8"/>
<circle cx="994.89" cy="290.81" r="2.8"/>
<circle cx="991.35" cy="310.42" r="2.8"/>
<circle cx="995.44" cy="310.42" r="2.8"/>
<circle cx="994.89" cy="333.29" r="2.8"/>
<circle cx="1032.74" cy="268.75" r="2.8"/>
<circle cx="1032.74" cy="275.02" r="2.8"/>
<circle cx="1032.74" cy="295.44" r="2.8"/>
<circle cx="1028.11" cy="301.7" r="2.8"/>
<circle cx="1032.74" cy="302.25" r="2.8"/>
<circle cx="1037.64" cy="301.7" r="2.8"/>
<circle cx="1028.66" cy="324.57" r="2.8"/>
<circle cx="1032.74" cy="326.21" r="2.8"/>
<circle cx="1032.74" cy="333.56" r="2.8"/>
<circle cx="1032.74" cy="345.27" r="2.8"/>
<circle cx="1037.64" cy="344.45" r="2.8"/>
<circle cx="1032.74" cy="351.26" r="2.8"/>
<circle cx="1032.74" cy="356.71" r="2.8"/>
<circle cx="1070.5" cy="217.84" r="2.8"/>
<circle cx="1070.5" cy="223.83" r="2.8"/>
<circle cx="1070.5" cy="235.26" r="2.8"/>
<circle cx="1070.5" cy="263.58" r="2.8"/>
<circle cx="1070.5" cy="302.79" r="2.8"/>
<circle cx="1066.14" cy="307.15" r="2.8"/>
<circle cx="1070.5" cy="309.6" r="2.8"/>
<circle cx="1070.5" cy="319.95" r="2.8"/>
<circle cx="1070.5" cy="337.1" r="2.8"/>
<circle cx="1070.5" cy="348.54" r="2.8"/>
<circle cx="1075.4" cy="347.45" r="2.8"/>
<circle cx="1103.99" cy="298.98" r="2.8"/>
<circle cx="1108.35" cy="299.52" r="2.8"/>
<circle cx="1108.35" cy="318.58" r="2.8"/>
<circle cx="1108.35" cy="337.1" r="2.8"/>
<circle cx="1103.99" cy="345.81" r="2.8"/>
<circle cx="1108.35" cy="347.17" r="2.8"/>
<circle cx="1112.97" cy="347.17" r="2.8"/>
<circle cx="1108.35" cy="355.34" r="2.8"/>
<circle cx="1108.35" cy="371.68" r="2.8"/>
<circle cx="1146.19" cy="160.11" r="2.8"/>
<circle cx="1146.19" cy="182.98" r="2.8"/>
<circle cx="1146.19" cy="208.3" r="2.8"/>
<circle cx="1146.19" cy="252.69" r="2.8"/>
<circle cx="1146.19" cy="279.1" r="2.8"/>
<circle cx="1151.1" cy="284.55" r="2.8"/>
<circle cx="1142.11" cy="287.27" r="2.8"/>
<circle cx="1146.19" cy="290.81" r="2.8"/>
<circle cx="1146.19" cy="296.8" r="2.8"/>
<circle cx="1146.19" cy="307.69" r="2.8"/>
<circle cx="1146.19" cy="313.68" r="2.8"/>
<circle cx="1184.04" cy="214.3" r="2.8"/>
<circle cx="1189.22" cy="257.32" r="2.8"/>
<circle cx="1184.04" cy="264.13" r="2.8"/>
<circle cx="1184.04" cy="315.86" r="2.8"/>
<circle cx="1184.04" cy="322.67" r="2.8"/>
<circle cx="1179.41" cy="328.11" r="2.8"/>
<circle cx="1184.04" cy="329.48" r="2.8"/>
<circle cx="1184.04" cy="337.1" r="2.8"/>
<circle cx="1184.04" cy="343.64" r="2.8"/>
<circle cx="1184.04" cy="358.07" r="2.8"/>
<circle cx="1221.89" cy="184.34" r="2.8"/>
<circle cx="1221.89" cy="212.39" r="2.8"/>
<circle cx="1221.89" cy="217.29" r="2.8"/>
<circle cx="1221.89" cy="268.21" r="2.8"/>
<circle cx="1217.54" cy="285.91" r="2.8"/>
<circle cx="1226.52" cy="285.91" r="2.8"/>
<circle cx="1221.89" cy="289.99" r="2.8"/>
<circle cx="1221.89" cy="323.49" r="2.8"/>
<circle cx="1221.89" cy="329.48" r="2.8"/>
<circle cx="1221.89" cy="358.88" r="2.8"/>
<circle cx="1259.47" cy="201.5" r="2.8"/>
<circle cx="1259.47" cy="211.84" r="2.8"/>
<circle cx="1259.47" cy="291.35" r="2.8"/>
<circle cx="1255.11" cy="300.88" r="2.8"/>
<circle cx="1259.47" cy="302.79" r="2.8"/>
<circle cx="1263.83" cy="300.88" r="2.8"/>
<circle cx="1259.47" cy="339.01" r="2.8"/>
<circle cx="1259.47" cy="359.43" r="2.8"/>
<circle cx="1259.47" cy="370.86" r="2.8"/>
<circle cx="1297.32" cy="191.7" r="2.8"/>
<circle cx="1297.32" cy="202.04" r="2.8"/>
<circle cx="1297.32" cy="209.12" r="2.8"/>
<circle cx="1297.32" cy="218.38" r="2.8"/>
<circle cx="1297.32" cy="272.29" r="2.8"/>
<circle cx="1297.32" cy="303.06" r="2.8"/>
<circle cx="1292.69" cy="316.41" r="2.8"/>
<circle cx="1298.13" cy="316.41" r="2.8"/>
<circle cx="1297.32" cy="339.55" r="2.8"/>
<circle cx="1335.17" cy="266.85" r="2.8"/>
<circle cx="1335.17" cy="273.66" r="2.8"/>
<circle cx="1335.17" cy="287.27" r="2.8"/>
<circle cx="1335.17" cy="298.16" r="2.8"/>
<circle cx="1335.17" cy="313.14" r="2.8"/>
<circle cx="1339.52" cy="313.14" r="2.8"/>
<circle cx="1335.17" cy="324.57" r="2.8"/>
<circle cx="1335.17" cy="331.65" r="2.8"/>
<circle cx="1335.17" cy="339.01" r="2.8"/>
<circle cx="1335.17" cy="370.32" r="2.8"/>
<line x1="756.6" y1="401.6" x2="818.4" y2="401.6" stroke="#000" stroke-width="3.5" stroke-linecap="butt"/>
<line x1="831.2" y1="401.6" x2="892.8" y2="401.6" stroke="#000" stroke-width="3.5" stroke-linecap="butt"/>
<line x1="907.8" y1="401.6" x2="969.6" y2="401.6" stroke="#000" stroke-width="3.5" stroke-linecap="butt"/>
<line x1="980" y1="401.6" x2="1041.7" y2="401.6" stroke="#000" stroke-width="3.5" stroke-linecap="butt"/>
<line x1="1058.5" y1="401.6" x2="1120.3" y2="401.6" stroke="#000" stroke-width="3.5" stroke-linecap="butt"/>
<line x1="1133.4" y1="401.6" x2="1194.7" y2="401.6" stroke="#000" stroke-width="3.5" stroke-linecap="butt"/>
<line x1="1208.8" y1="401.6" x2="1270.9" y2="401.6" stroke="#000" stroke-width="3.5" stroke-linecap="butt"/>
<line x1="1285" y1="401.6" x2="1347.2" y2="401.6" stroke="#000" stroke-width="3.5" stroke-linecap="butt"/>
<text x="779.8" y="431.3" font-size="22" text-anchor="middle">0</text>
<text x="860.1" y="431.3" font-size="22" text-anchor="middle">30</text>
<text x="933.6" y="431.3" font-size="22" text-anchor="middle">60</text>
<text x="1006.9" y="431.3" font-size="22" text-anchor="middle">90</text>
<text x="1087.1" y="431.3" font-size="22" text-anchor="middle">120</text>
<text x="1161.2" y="431.3" font-size="22" text-anchor="middle">150</text>
<text x="1234.7" y="431.3" font-size="22" text-anchor="middle">180</text>
<text x="1307.7" y="431.3" font-size="22" text-anchor="middle">210</text>
<polyline points="920,142.1 964.1,142.1 964.1,203.7" fill="none" stroke="#000" stroke-width="3"/>
<polyline points="997.3,164.2 1038.5,164.2 1038.5,235.8" fill="none" stroke="#000" stroke-width="3"/>
<polyline points="1063.1,168.3 1109.7,168.3 1109.7,260.9" fill="none" stroke="#000" stroke-width="3"/>
<polyline points="1146.2,141 1184.6,141 1184.6,201" fill="none" stroke="#000" stroke-width="3"/>
<polyline points="1298.1,171 1339,171 1339,241.8" fill="none" stroke="#000" stroke-width="3"/>
<text x="939" y="137.1" font-size="24" text-anchor="middle">*</text>
<text x="1018" y="159.7" font-size="24" text-anchor="middle">*</text>
<text x="1084.4" y="166" font-size="24" text-anchor="middle">**</text>
<text x="1169.9" y="139.3" font-size="24" text-anchor="middle">*</text>
<text x="1318.3" y="166.5" font-size="24" text-anchor="middle">*</text>
<line x1="1416" y1="85.2" x2="1416" y2="395.7" stroke="#000" stroke-width="3.2" stroke-linecap="butt"/>
<line x1="1405.8" y1="394.6" x2="2002" y2="394.6" stroke="#000" stroke-width="3.2" stroke-linecap="butt"/>
<line x1="1405.8" y1="317.5" x2="1416" y2="317.5" stroke="#000" stroke-width="3" stroke-linecap="butt"/>
<line x1="1405.8" y1="240.4" x2="1416" y2="240.4" stroke="#000" stroke-width="3" stroke-linecap="butt"/>
<line x1="1405.8" y1="163.3" x2="1416" y2="163.3" stroke="#000" stroke-width="3" stroke-linecap="butt"/>
<line x1="1405.8" y1="86.2" x2="1416" y2="86.2" stroke="#000" stroke-width="3" stroke-linecap="butt"/>
<text x="1398" y="398.2" font-size="20" text-anchor="end">0</text>
<text x="1398" y="324.1" font-size="20" text-anchor="end">5</text>
<text x="1398" y="247" font-size="20" text-anchor="end">10</text>
<text x="1398" y="169.9" font-size="20" text-anchor="end">15</text>
<text x="1398" y="92.8" font-size="20" text-anchor="end">20</text>
<text x="1705" y="64.8" font-size="23.5" text-anchor="middle">Wire hanging</text>
<rect x="1420.44" y="164.88" width="23.41" height="229.72" fill="#fff" stroke="#000" stroke-width="3"/>
<rect x="1457.74" y="164.88" width="22.87" height="229.72" fill="#c6cbdf" stroke="#000" stroke-width="3"/>
<rect x="1493.69" y="175.77" width="22.87" height="218.83" fill="#fff" stroke="#000" stroke-width="3"/>
<line x1="1505.12" y1="174.27" x2="1505.12" y2="165.55" stroke="#000" stroke-width="3" stroke-linecap="butt"/>
<line x1="1498.12" y1="165.55" x2="1512.12" y2="165.55" stroke="#000" stroke-width="3" stroke-linecap="butt"/>
<rect x="1529.9" y="179.31" width="22.87" height="215.29" fill="#c6cbdf" stroke="#000" stroke-width="3"/>
<line x1="1541.33" y1="177.81" x2="1541.33" y2="165.55" stroke="#000" stroke-width="3" stroke-linecap="butt"/>
<line x1="1534.33" y1="165.55" x2="1548.33" y2="165.55" stroke="#000" stroke-width="3" stroke-linecap="butt"/>
<rect x="1566.12" y="176.59" width="22.6" height="218.01" fill="#fff" stroke="#000" stroke-width="3"/>
<line x1="1577.41" y1="175.09" x2="1577.41" y2="168.82" stroke="#000" stroke-width="3" stroke-linecap="butt"/>
<line x1="1570.41" y1="168.82" x2="1584.41" y2="168.82" stroke="#000" stroke-width="3" stroke-linecap="butt"/>
<rect x="1602.6" y="177.13" width="22.6" height="217.47" fill="#c6cbdf" stroke="#000" stroke-width="3"/>
<line x1="1613.9" y1="175.63" x2="1613.9" y2="167.46" stroke="#000" stroke-width="3" stroke-linecap="butt"/>
<line x1="1606.9" y1="167.46" x2="1620.9" y2="167.46" stroke="#000" stroke-width="3" stroke-linecap="butt"/>
<rect x="1638" y="238.4" width="22.87" height="156.2" fill="#fff" stroke="#000" stroke-width="3"/>
<line x1="1649.43" y1="236.9" x2="1649.43" y2="214.57" stroke="#000" stroke-width="3" stroke-linecap="butt"/>
<line x1="1642.43" y1="214.57" x2="1656.43" y2="214.57" stroke="#000" stroke-width="3" stroke-linecap="butt"/>
<rect x="1674.22" y="203.81" width="22.87" height="190.79" fill="#c6cbdf" stroke="#000" stroke-width="3"/>
<line x1="1685.65" y1="202.31" x2="1685.65" y2="181.62" stroke="#000" stroke-width="3" stroke-linecap="butt"/>
<line x1="1678.65" y1="181.62" x2="1692.65" y2="181.62" stroke="#000" stroke-width="3" stroke-linecap="butt"/>
<rect x="1710.16" y="254.73" width="22.87" height="139.87" fill="#fff" stroke="#000" stroke-width="3"/>
<line x1="1721.59" y1="253.23" x2="1721.59" y2="230.91" stroke="#000" stroke-width="3" stroke-linecap="butt"/>
<line x1="1714.59" y1="230.91" x2="1728.59" y2="230.91" stroke="#000" stroke-width="3" stroke-linecap="butt"/>
<rect x="1746.37" y="250.38" width="22.87" height="144.22" fill="#c6cbdf" stroke="#000" stroke-width="3"/>
<line x1="1757.81" y1="248.88" x2="1757.81" y2="224.37" stroke="#000" stroke-width="3" stroke-linecap="butt"/>
<line x1="1750.81" y1="224.37" x2="1764.81" y2="224.37" stroke="#000" stroke-width="3" stroke-linecap="butt"/>
<rect x="1782.67" y="205.72" width="22.6" height="188.88" fill="#fff" stroke="#000" stroke-width="3"/>
<line x1="1793.97" y1="204.22" x2="1793.97" y2="186.79" stroke="#000" stroke-width="3" stroke-linecap="butt"/>
<line x1="1786.97" y1="186.79" x2="1800.97" y2="186.79" stroke="#000" stroke-width="3" stroke-linecap="butt"/>
<rect x="1819.16" y="196.19" width="22.32" height="198.41" fill="#c6cbdf" stroke="#000" stroke-width="3"/>
<line x1="1830.32" y1="194.69" x2="1830.32" y2="179.17" stroke="#000" stroke-width="3" stroke-linecap="butt"/>
<line x1="1823.32" y1="179.17" x2="1837.32" y2="179.17" stroke="#000" stroke-width="3" stroke-linecap="butt"/>
<rect x="1855.1" y="203.81" width="22.6" height="190.79" fill="#fff" stroke="#000" stroke-width="3"/>
<line x1="1866.4" y1="202.31" x2="1866.4" y2="186.25" stroke="#000" stroke-width="3" stroke-linecap="butt"/>
<line x1="1859.4" y1="186.25" x2="1873.4" y2="186.25" stroke="#000" stroke-width="3" stroke-linecap="butt"/>
<rect x="1891.31" y="223.42" width="22.32" height="171.18" fill="#c6cbdf" stroke="#000" stroke-width="3"/>
<line x1="1902.48" y1="221.92" x2="1902.48" y2="203.68" stroke="#000" stroke-width="3" stroke-linecap="butt"/>
<line x1="1895.48" y1="203.68" x2="1909.48" y2="203.68" stroke="#000" stroke-width="3" stroke-linecap="butt"/>
<rect x="1927.53" y="200.27" width="22.32" height="194.33" fill="#fff" stroke="#000" stroke-width="3"/>
<line x1="1938.69" y1="198.77" x2="1938.69" y2="180.26" stroke="#000" stroke-width="3" stroke-linecap="butt"/>
<line x1="1931.69" y1="180.26" x2="1945.69" y2="180.26" stroke="#000" stroke-width="3" stroke-linecap="butt"/>
<rect x="1963.47" y="219.34" width="22.32" height="175.26" fill="#c6cbdf" stroke="#000" stroke-width="3"/>
<line x1="1974.63" y1="217.84" x2="1974.63" y2="196.05" stroke="#000" stroke-width="3" stroke-linecap="butt"/>
<line x1="1967.63" y1="196.05" x2="1981.63" y2="196.05" stroke="#000" stroke-width="3" stroke-linecap="butt"/>
<circle cx="1421.39" cy="163.3" r="2.8"/>
<circle cx="1425.02" cy="163.3" r="2.8"/>
<circle cx="1428.65" cy="163.3" r="2.8"/>
<circle cx="1432.28" cy="163.3" r="2.8"/>
<circle cx="1435.91" cy="163.3" r="2.8"/>
<circle cx="1439.54" cy="163.3" r="2.8"/>
<circle cx="1443.17" cy="163.3" r="2.8"/>
<circle cx="1458.97" cy="163.3" r="2.8"/>
<circle cx="1462.51" cy="163.3" r="2.8"/>
<circle cx="1466.04" cy="163.3" r="2.8"/>
<circle cx="1469.58" cy="163.3" r="2.8"/>
<circle cx="1473.12" cy="163.3" r="2.8"/>
<circle cx="1476.66" cy="163.3" r="2.8"/>
<circle cx="1480.2" cy="163.3" r="2.8"/>
<circle cx="1495.45" cy="163.3" r="2.8"/>
<circle cx="1499.43" cy="163.3" r="2.8"/>
<circle cx="1503.4" cy="163.3" r="2.8"/>
<circle cx="1507.38" cy="163.3" r="2.8"/>
<circle cx="1511.35" cy="163.3" r="2.8"/>
<circle cx="1515.33" cy="163.3" r="2.8"/>
<circle cx="1531.4" cy="163.3" r="2.8"/>
<circle cx="1535.43" cy="163.3" r="2.8"/>
<circle cx="1539.46" cy="163.3" r="2.8"/>
<circle cx="1543.49" cy="163.3" r="2.8"/>
<circle cx="1547.52" cy="163.3" r="2.8"/>
<circle cx="1551.55" cy="163.3" r="2.8"/>
<circle cx="1567.34" cy="163.3" r="2.8"/>
<circle cx="1571.48" cy="163.3" r="2.8"/>
<circle cx="1575.62" cy="163.3" r="2.8"/>
<circle cx="1579.75" cy="163.3" r="2.8"/>
<circle cx="1583.89" cy="163.3" r="2.8"/>
<circle cx="1588.03" cy="163.3" r="2.8"/>
<circle cx="1603.83" cy="163.3" r="2.8"/>
<circle cx="1607.86" cy="163.3" r="2.8"/>
<circle cx="1611.89" cy="163.3" r="2.8"/>
<circle cx="1615.92" cy="163.3" r="2.8"/>
<circle cx="1619.95" cy="163.3" r="2.8"/>
<circle cx="1623.98" cy="163.3" r="2.8"/>
<circle cx="1644.13" cy="163.3" r="2.8"/>
<circle cx="1648.66" cy="163.3" r="2.8"/>
<circle cx="1653.2" cy="163.3" r="2.8"/>
<circle cx="1657.74" cy="163.3" r="2.8"/>
<circle cx="1676.26" cy="163.3" r="2.8"/>
<circle cx="1680.07" cy="163.3" r="2.8"/>
<circle cx="1683.88" cy="163.3" r="2.8"/>
<circle cx="1687.69" cy="163.3" r="2.8"/>
<circle cx="1691.5" cy="163.3" r="2.8"/>
<circle cx="1695.32" cy="163.3" r="2.8"/>
<circle cx="1717.64" cy="163.3" r="2.8"/>
<circle cx="1721.73" cy="163.3" r="2.8"/>
<circle cx="1725.81" cy="163.3" r="2.8"/>
<circle cx="1748.96" cy="163.3" r="2.8"/>
<circle cx="1753.5" cy="163.3" r="2.8"/>
<circle cx="1758.03" cy="163.3" r="2.8"/>
<circle cx="1762.57" cy="163.3" r="2.8"/>
<circle cx="1784.44" cy="163.3" r="2.8"/>
<circle cx="1788.36" cy="163.3" r="2.8"/>
<circle cx="1792.28" cy="163.3" r="2.8"/>
<circle cx="1796.2" cy="163.3" r="2.8"/>
<circle cx="1800.12" cy="163.3" r="2.8"/>
<circle cx="1804.04" cy="163.3" r="2.8"/>
<circle cx="1820.65" cy="163.3" r="2.8"/>
<circle cx="1824.63" cy="163.3" r="2.8"/>
<circle cx="1828.6" cy="163.3" r="2.8"/>
<circle cx="1832.58" cy="163.3" r="2.8"/>
<circle cx="1836.55" cy="163.3" r="2.8"/>
<circle cx="1840.53" cy="163.3" r="2.8"/>
<circle cx="1856.59" cy="163.3" r="2.8"/>
<circle cx="1860.57" cy="163.3" r="2.8"/>
<circle cx="1864.55" cy="163.3" r="2.8"/>
<circle cx="1868.52" cy="163.3" r="2.8"/>
<circle cx="1872.5" cy="163.3" r="2.8"/>
<circle cx="1876.47" cy="163.3" r="2.8"/>
<circle cx="1892.54" cy="163.3" r="2.8"/>
<circle cx="1896.51" cy="163.3" r="2.8"/>
<circle cx="1900.49" cy="163.3" r="2.8"/>
<circle cx="1904.46" cy="163.3" r="2.8"/>
<circle cx="1908.44" cy="163.3" r="2.8"/>
<circle cx="1912.42" cy="163.3" r="2.8"/>
<circle cx="1928.75" cy="163.3" r="2.8"/>
<circle cx="1932.67" cy="163.3" r="2.8"/>
<circle cx="1936.59" cy="163.3" r="2.8"/>
<circle cx="1940.52" cy="163.3" r="2.8"/>
<circle cx="1944.44" cy="163.3" r="2.8"/>
<circle cx="1948.36" cy="163.3" r="2.8"/>
<circle cx="1964.97" cy="163.3" r="2.8"/>
<circle cx="1968.89" cy="163.3" r="2.8"/>
<circle cx="1972.81" cy="163.3" r="2.8"/>
<circle cx="1976.73" cy="163.3" r="2.8"/>
<circle cx="1980.65" cy="163.3" r="2.8"/>
<circle cx="1984.57" cy="163.3" r="2.8"/>
<circle cx="1504.98" cy="293.26" r="2.8"/>
<circle cx="1541.2" cy="338.19" r="2.8"/>
<circle cx="1577.14" cy="190.06" r="2.8"/>
<circle cx="1577.14" cy="222.74" r="2.8"/>
<circle cx="1581.77" cy="219.2" r="2.8"/>
<circle cx="1613.36" cy="211.57" r="2.8"/>
<circle cx="1613.36" cy="259.5" r="2.8"/>
<circle cx="1644.67" cy="183.8" r="2.8"/>
<circle cx="1649.57" cy="186.79" r="2.8"/>
<circle cx="1649.57" cy="228.18" r="2.8"/>
<circle cx="1649.57" cy="264.13" r="2.8"/>
<circle cx="1649.57" cy="316.41" r="2.8"/>
<circle cx="1649.57" cy="325.39" r="2.8"/>
<circle cx="1649.57" cy="342.55" r="2.8"/>
<circle cx="1653.93" cy="339.55" r="2.8"/>
<circle cx="1685.51" cy="290.27" r="2.8"/>
<circle cx="1685.51" cy="336.56" r="2.8"/>
<circle cx="1690.42" cy="333.56" r="2.8"/>
<circle cx="1721.73" cy="206.94" r="2.8"/>
<circle cx="1717.64" cy="223.83" r="2.8"/>
<circle cx="1721.73" cy="225.46" r="2.8"/>
<circle cx="1726.36" cy="222.74" r="2.8"/>
<circle cx="1721.73" cy="296.26" r="2.8"/>
<circle cx="1721.73" cy="331.65" r="2.8"/>
<circle cx="1721.73" cy="340.37" r="2.8"/>
<circle cx="1721.73" cy="347.17" r="2.8"/>
<circle cx="1721.73" cy="358.61" r="2.8"/>
<circle cx="1757.94" cy="179.17" r="2.8"/>
<circle cx="1757.94" cy="188.16" r="2.8"/>
<circle cx="1757.94" cy="265.49" r="2.8"/>
<circle cx="1753.59" cy="319.4" r="2.8"/>
<circle cx="1757.94" cy="319.4" r="2.8"/>
<circle cx="1757.94" cy="347.17" r="2.8"/>
<circle cx="1757.94" cy="356.16" r="2.8"/>
<circle cx="1757.94" cy="362.7" r="2.8"/>
<circle cx="1793.97" cy="276.92" r="2.8"/>
<circle cx="1798.6" cy="273.11" r="2.8"/>
<circle cx="1793.97" cy="290.54" r="2.8"/>
<circle cx="1793.97" cy="306.06" r="2.8"/>
<circle cx="1830.18" cy="178.35" r="2.8"/>
<circle cx="1830.18" cy="189.79" r="2.8"/>
<circle cx="1830.18" cy="227.37" r="2.8"/>
<circle cx="1830.18" cy="288.63" r="2.8"/>
<circle cx="1830.18" cy="307.69" r="2.8"/>
<circle cx="1866.13" cy="191.7" r="2.8"/>
<circle cx="1866.13" cy="220.56" r="2.8"/>
<circle cx="1866.13" cy="276.92" r="2.8"/>
<circle cx="1866.13" cy="283.19" r="2.8"/>
<circle cx="1866.13" cy="315.04" r="2.8"/>
<circle cx="1902.07" cy="187.07" r="2.8"/>
<circle cx="1902.07" cy="216.47" r="2.8"/>
<circle cx="1902.07" cy="228.73" r="2.8"/>
<circle cx="1902.07" cy="294.89" r="2.8"/>
<circle cx="1906.42" cy="293.53" r="2.8"/>
<circle cx="1902.07" cy="311.78" r="2.8"/>
<circle cx="1902.07" cy="318.04" r="2.8"/>
<circle cx="1938.83" cy="294.89" r="2.8"/>
<circle cx="1938.83" cy="302.25" r="2.8"/>
<circle cx="1938.83" cy="315.04" r="2.8"/>
<circle cx="1974.5" cy="182.44" r="2.8"/>
<circle cx="1974.5" cy="190.06" r="2.8"/>
<line x1="1419.5" y1="402.5" x2="1480.2" y2="402.5" stroke="#000" stroke-width="3.5" stroke-linecap="butt"/>
<line x1="1493" y1="402.5" x2="1553.7" y2="402.5" stroke="#000" stroke-width="3.5" stroke-linecap="butt"/>
<line x1="1567.9" y1="402.5" x2="1628.3" y2="402.5" stroke="#000" stroke-width="3.5" stroke-linecap="butt"/>
<line x1="1638.1" y1="402.5" x2="1699.1" y2="402.5" stroke="#000" stroke-width="3.5" stroke-linecap="butt"/>
<line x1="1712.9" y1="402.5" x2="1773.5" y2="402.5" stroke="#000" stroke-width="3.5" stroke-linecap="butt"/>
<line x1="1783.1" y1="402.5" x2="1843.8" y2="402.5" stroke="#000" stroke-width="3.5" stroke-linecap="butt"/>
<line x1="1857.4" y1="402.5" x2="1917.9" y2="402.5" stroke="#000" stroke-width="3.5" stroke-linecap="butt"/>
<line x1="1932.8" y1="402.5" x2="1993.6" y2="402.5" stroke="#000" stroke-width="3.5" stroke-linecap="butt"/>
<text x="1455.7" y="430.8" font-size="22" text-anchor="middle">0</text>
<text x="1533" y="430.8" font-size="22" text-anchor="middle">30</text>
<text x="1605.5" y="430.8" font-size="22" text-anchor="middle">60</text>
<text x="1677.3" y="430.8" font-size="22" text-anchor="middle">90</text>
<text x="1755.8" y="430.8" font-size="22" text-anchor="middle">120</text>
<text x="1828" y="430.8" font-size="22" text-anchor="middle">150</text>
<text x="1900.2" y="430.8" font-size="22" text-anchor="middle">180</text>
<text x="1971.5" y="430.8" font-size="22" text-anchor="middle">210</text>
</g>
<g id="panel_b">
<text x="11.5" y="494.5" font-size="48" text-anchor="start">b</text>
<line x1="98.8" y1="528.9" x2="98.8" y2="798.2" stroke="#000" stroke-width="3.2" stroke-linecap="butt"/>
<line x1="90.4" y1="796.6" x2="323.3" y2="796.6" stroke="#000" stroke-width="3.5" stroke-linecap="butt"/>
<text x="90.4" y="806.9" font-size="18.5" text-anchor="end">0</text>
<line x1="88.3" y1="708.3" x2="98.8" y2="708.3" stroke="#000" stroke-width="3" stroke-linecap="butt"/>
<text x="88.6" y="719.3" font-size="18.5" text-anchor="end">50</text>
<line x1="88.3" y1="619.2" x2="98.8" y2="619.2" stroke="#000" stroke-width="3" stroke-linecap="butt"/>
<text x="84.2" y="627.8" font-size="18.5" text-anchor="end">100</text>
<line x1="88.3" y1="530.4" x2="98.8" y2="530.4" stroke="#000" stroke-width="3" stroke-linecap="butt"/>
<text x="84.2" y="535.4" font-size="18.5" text-anchor="end">150</text>
<rect x="105.9" y="616.9" width="37.2" height="179.7" fill="#fff" stroke="#000" stroke-width="3"/>
<rect x="161.9" y="638.5" width="37.2" height="158.1" fill="#ff807c" stroke="#000" stroke-width="3"/>
<rect x="218.7" y="616.1" width="36.9" height="180.5" fill="#fff" stroke="#000" stroke-width="3"/>
<rect x="275.2" y="650" width="36.9" height="146.6" fill="#ff807c" stroke="#000" stroke-width="3"/>
<line x1="124.49" y1="615.4" x2="124.49" y2="613.35" stroke="#000" stroke-width="3" stroke-linecap="butt"/>
<line x1="113.99" y1="613.35" x2="134.99" y2="613.35" stroke="#000" stroke-width="3" stroke-linecap="butt"/>
<line x1="180.24" y1="637" x2="180.24" y2="629.39" stroke="#000" stroke-width="3" stroke-linecap="butt"/>
<line x1="169.74" y1="629.39" x2="190.74" y2="629.39" stroke="#000" stroke-width="3" stroke-linecap="butt"/>
<line x1="237.27" y1="614.6" x2="237.27" y2="610.3" stroke="#000" stroke-width="3" stroke-linecap="butt"/>
<line x1="226.77" y1="610.3" x2="247.77" y2="610.3" stroke="#000" stroke-width="3" stroke-linecap="butt"/>
<line x1="294.81" y1="648.5" x2="294.81" y2="644.66" stroke="#000" stroke-width="3" stroke-linecap="butt"/>
<line x1="284.31" y1="644.66" x2="305.31" y2="644.66" stroke="#000" stroke-width="3" stroke-linecap="butt"/>
<circle cx="118.89" cy="610.3" r="4"/>
<circle cx="125.51" cy="610.8" r="4"/>
<circle cx="132.64" cy="609.02" r="4"/>
<circle cx="122.96" cy="614.88" r="4"/>
<circle cx="126.02" cy="625.57" r="4"/>
<circle cx="132.64" cy="621.75" r="4"/>
<circle cx="182.28" cy="599.6" r="4"/>
<circle cx="182.28" cy="607.75" r="4"/>
<circle cx="189.41" cy="621.75" r="4"/>
<circle cx="182.28" cy="629.39" r="4"/>
<circle cx="189.41" cy="631.17" r="4"/>
<circle cx="175.66" cy="640.34" r="4"/>
<circle cx="182.28" cy="638.81" r="4"/>
<circle cx="189.41" cy="643.39" r="4"/>
<circle cx="182.28" cy="648.99" r="4"/>
<circle cx="182.28" cy="658.67" r="4"/>
<circle cx="182.28" cy="691" r="4"/>
<circle cx="238.54" cy="603.42" r="4"/>
<circle cx="231.67" cy="609.79" r="4"/>
<circle cx="238.54" cy="614.88" r="4"/>
<circle cx="245.67" cy="617.93" r="4"/>
<circle cx="238.54" cy="627.61" r="4"/>
<circle cx="288.44" cy="612.08" r="4"/>
<circle cx="294.81" cy="619.97" r="4"/>
<circle cx="294.81" cy="629.39" r="4"/>
<circle cx="301.93" cy="631.17" r="4"/>
<circle cx="287.68" cy="638.81" r="4"/>
<circle cx="294.81" cy="638.81" r="4"/>
<circle cx="301.93" cy="643.39" r="4"/>
<circle cx="294.81" cy="649.76" r="4"/>
<circle cx="294.81" cy="671.4" r="4"/>
<circle cx="301.93" cy="703.22" r="4"/>
<circle cx="294.81" cy="707.55" r="4"/>
<line x1="113.8" y1="811.9" x2="194.8" y2="811.9" stroke="#000" stroke-width="3.5" stroke-linecap="butt"/>
<line x1="223.5" y1="811.9" x2="303.5" y2="811.9" stroke="#000" stroke-width="3.5" stroke-linecap="butt"/>
<text x="156" y="836.4" font-size="22" text-anchor="middle">CL</text>
<text x="263.5" y="836.4" font-size="22" text-anchor="middle">IL</text>
<line x1="240.6" y1="580.3" x2="303" y2="580.3" stroke="#000" stroke-width="3" stroke-linecap="butt"/>
<text x="271.1" y="575.8" font-size="28" text-anchor="middle">**</text>
<text x="38.2" y="798.7" font-size="22" text-anchor="start" transform="rotate(-90 38.2 798.7)" textLength="268.7" lengthAdjust="spacing">TH-density striatum (% CT)</text>
</g>
<g id="panel_c">
<text x="336.5" y="494.5" font-size="48" text-anchor="start">c</text>
<line x1="406.6" y1="526.8" x2="406.6" y2="797.2" stroke="#000" stroke-width="3.2" stroke-linecap="butt"/>
<line x1="397.6" y1="795.6" x2="632.6" y2="795.6" stroke="#000" stroke-width="3.5" stroke-linecap="butt"/>
<text x="393.8" y="803.3" font-size="18.5" text-anchor="end">0</text>
<line x1="397.6" y1="706.3" x2="406.6" y2="706.3" stroke="#000" stroke-width="3" stroke-linecap="butt"/>
<text x="393.4" y="714.7" font-size="18.5" text-anchor="end">2</text>
<line x1="397.6" y1="617.2" x2="406.6" y2="617.2" stroke="#000" stroke-width="3" stroke-linecap="butt"/>
<text x="392.7" y="619" font-size="18.5" text-anchor="end">4</text>
<line x1="397.6" y1="528.3" x2="406.6" y2="528.3" stroke="#000" stroke-width="3" stroke-linecap="butt"/>
<text x="393" y="535.2" font-size="18.5" text-anchor="end">6</text>
<rect x="414.9" y="585.8" width="37.3" height="209.8" fill="#fff" stroke="#000" stroke-width="3"/>
<rect x="471.7" y="633.9" width="36.5" height="161.7" fill="#ff807c" stroke="#000" stroke-width="3"/>
<rect x="528.2" y="611" width="36.5" height="184.6" fill="#fff" stroke="#000" stroke-width="3"/>
<rect x="585" y="662.2" width="36.5" height="133.4" fill="#ff807c" stroke="#000" stroke-width="3"/>
<line x1="434.31" y1="584.3" x2="434.31" y2="570.33" stroke="#000" stroke-width="3" stroke-linecap="butt"/>
<line x1="423.81" y1="570.33" x2="444.81" y2="570.33" stroke="#000" stroke-width="3" stroke-linecap="butt"/>
<line x1="490.32" y1="632.4" x2="490.32" y2="612.84" stroke="#000" stroke-width="3" stroke-linecap="butt"/>
<line x1="479.82" y1="612.84" x2="500.82" y2="612.84" stroke="#000" stroke-width="3" stroke-linecap="butt"/>
<line x1="546.83" y1="609.5" x2="546.83" y2="597.06" stroke="#000" stroke-width="3" stroke-linecap="butt"/>
<line x1="536.33" y1="597.06" x2="557.33" y2="597.06" stroke="#000" stroke-width="3" stroke-linecap="butt"/>
<line x1="603.1" y1="660.7" x2="603.1" y2="645.17" stroke="#000" stroke-width="3" stroke-linecap="butt"/>
<line x1="592.6" y1="645.17" x2="613.6" y2="645.17" stroke="#000" stroke-width="3" stroke-linecap="butt"/>
<circle cx="433.8" cy="549.7" r="4"/>
<circle cx="433.8" cy="560.14" r="4"/>
<circle cx="426.92" cy="570.33" r="4"/>
<circle cx="433.8" cy="573.38" r="4"/>
<circle cx="440.16" cy="573.38" r="4"/>
<circle cx="433.8" cy="595.78" r="4"/>
<circle cx="433.8" cy="661.72" r="4"/>
<circle cx="490.06" cy="543.59" r="4"/>
<circle cx="490.06" cy="552.51" r="4"/>
<circle cx="490.06" cy="568.54" r="4"/>
<circle cx="490.06" cy="586.62" r="4"/>
<circle cx="490.06" cy="607.75" r="4"/>
<circle cx="490.06" cy="635.24" r="4"/>
<circle cx="490.06" cy="644.15" r="4"/>
<circle cx="490.06" cy="671.4" r="4"/>
<circle cx="490.06" cy="691.25" r="4"/>
<circle cx="490.06" cy="722.31" r="4"/>
<circle cx="490.06" cy="734.28" r="4"/>
<circle cx="546.58" cy="578.98" r="4"/>
<circle cx="553.2" cy="578.98" r="4"/>
<circle cx="546.58" cy="587.38" r="4"/>
<circle cx="553.2" cy="605.2" r="4"/>
<circle cx="546.58" cy="614.11" r="4"/>
<circle cx="546.58" cy="634.48" r="4"/>
<circle cx="546.58" cy="667.07" r="4"/>
<circle cx="603.1" cy="585.86" r="4"/>
<circle cx="603.1" cy="602.15" r="4"/>
<circle cx="610.22" cy="599.35" r="4"/>
<circle cx="603.1" cy="623.79" r="4"/>
<circle cx="603.1" cy="656.12" r="4"/>
<circle cx="603.1" cy="670.89" r="4"/>
<circle cx="603.1" cy="679.54" r="4"/>
<circle cx="596.22" cy="698.89" r="4"/>
<circle cx="603.1" cy="702.45" r="4"/>
<circle cx="610.22" cy="698.89" r="4"/>
<circle cx="603.1" cy="752.86" r="4"/>
<line x1="419.3" y1="811.4" x2="500.8" y2="811.4" stroke="#000" stroke-width="3.5" stroke-linecap="butt"/>
<line x1="528.8" y1="811.4" x2="609.5" y2="811.4" stroke="#000" stroke-width="3.5" stroke-linecap="butt"/>
<text x="462" y="835.6" font-size="22" text-anchor="middle">CL</text>
<text x="569.5" y="835.6" font-size="22" text-anchor="middle">IL</text>
<line x1="545.3" y1="557.9" x2="608.4" y2="557.9" stroke="#000" stroke-width="3" stroke-linecap="butt"/>
<text x="577.9" y="553.4" font-size="28" text-anchor="middle">*</text>
<text x="365.8" y="788.5" font-size="22" text-anchor="start" transform="rotate(-90 365.8 788.5)" textLength="263.5" lengthAdjust="spacing">TH-neurons in SNpc (x10<tspan dy="-7" font-size="13">3</tspan><tspan dy="7">)</tspan></text>
</g>
<g id="panel_d">
<text x="666.5" y="494.5" font-size="48" text-anchor="start">d</text>
<line x1="743.1" y1="526.8" x2="743.1" y2="800.3" stroke="#000" stroke-width="3.2" stroke-linecap="butt"/>
<line x1="735.5" y1="798.7" x2="972.2" y2="798.7" stroke="#000" stroke-width="3.5" stroke-linecap="butt"/>
<text x="733.8" y="802.73" font-size="20.54" text-anchor="end">0</text>
<line x1="734.2" y1="708.8" x2="743.1" y2="708.8" stroke="#000" stroke-width="3" stroke-linecap="butt"/>
<text x="731.5" y="720.03" font-size="20.54" text-anchor="end">50</text>
<line x1="734.2" y1="618.7" x2="743.1" y2="618.7" stroke="#000" stroke-width="3" stroke-linecap="butt"/>
<text x="728.8" y="624.13" font-size="20.54" text-anchor="end">100</text>
<line x1="734.2" y1="528.3" x2="743.1" y2="528.3" stroke="#000" stroke-width="3" stroke-linecap="butt"/>
<text x="728.8" y="536.13" font-size="20.54" text-anchor="end">150</text>
<rect x="752.8" y="615.6" width="37.2" height="183.1" fill="#fff" stroke="#000" stroke-width="3"/>
<rect x="809.5" y="637.3" width="37.2" height="161.4" fill="#ff807c" stroke="#000" stroke-width="3"/>
<rect x="866.8" y="614.3" width="37.2" height="184.4" fill="#fff" stroke="#000" stroke-width="3"/>
<rect x="924.1" y="644.1" width="37" height="154.6" fill="#ff807c" stroke="#000" stroke-width="3"/>
<line x1="771.36" y1="614.1" x2="771.36" y2="606.99" stroke="#000" stroke-width="3" stroke-linecap="butt"/>
<line x1="760.86" y1="606.99" x2="781.86" y2="606.99" stroke="#000" stroke-width="3" stroke-linecap="butt"/>
<line x1="828.39" y1="635.8" x2="828.39" y2="624.81" stroke="#000" stroke-width="3" stroke-linecap="butt"/>
<line x1="817.89" y1="624.81" x2="838.89" y2="624.81" stroke="#000" stroke-width="3" stroke-linecap="butt"/>
<line x1="885.16" y1="612.8" x2="885.16" y2="605.2" stroke="#000" stroke-width="3" stroke-linecap="butt"/>
<line x1="874.66" y1="605.2" x2="895.66" y2="605.2" stroke="#000" stroke-width="3" stroke-linecap="butt"/>
<line x1="942.44" y1="642.6" x2="942.44" y2="636.26" stroke="#000" stroke-width="3" stroke-linecap="butt"/>
<line x1="931.94" y1="636.26" x2="952.94" y2="636.26" stroke="#000" stroke-width="3" stroke-linecap="butt"/>
<circle cx="771.11" cy="585.6" r="4"/>
<circle cx="764.24" cy="617.93" r="4"/>
<circle cx="771.11" cy="616.66" r="4"/>
<circle cx="778.24" cy="621.75" r="4"/>
<circle cx="771.11" cy="626.08" r="4"/>
<circle cx="828.39" cy="597.57" r="4"/>
<circle cx="828.39" cy="619.21" r="4"/>
<circle cx="835.52" cy="626.84" r="4"/>
<circle cx="828.39" cy="630.66" r="4"/>
<circle cx="821.26" cy="642.88" r="4"/>
<circle cx="828.39" cy="642.88" r="4"/>
<circle cx="828.39" cy="683.36" r="4"/>
<circle cx="885.16" cy="585.35" r="4"/>
<circle cx="878.8" cy="618.44" r="4"/>
<circle cx="892.04" cy="621.75" r="4"/>
<circle cx="885.16" cy="626.84" r="4"/>
<circle cx="885.16" cy="614.11" r="4"/>
<circle cx="942.44" cy="609.79" r="4"/>
<circle cx="935.32" cy="631.17" r="4"/>
<circle cx="942.44" cy="633.21" r="4"/>
<circle cx="949.32" cy="633.72" r="4"/>
<circle cx="935.32" cy="649.76" r="4"/>
<circle cx="942.44" cy="656.88" r="4"/>
<circle cx="942.44" cy="679.03" r="4"/>
<line x1="756.6" y1="811.4" x2="836.8" y2="811.4" stroke="#000" stroke-width="3.5" stroke-linecap="butt"/>
<line x1="874.7" y1="811.4" x2="955.7" y2="811.4" stroke="#000" stroke-width="3.5" stroke-linecap="butt"/>
<text x="799.1" y="835.6" font-size="22" text-anchor="middle">CL</text>
<text x="906" y="835.6" font-size="22" text-anchor="middle">IL</text>
<line x1="892" y1="570.1" x2="955.2" y2="570.1" stroke="#000" stroke-width="3" stroke-linecap="butt"/>
<text x="925.1" y="565.6" font-size="28" text-anchor="middle">*</text>
<text x="686.6" y="817.8" font-size="22" text-anchor="start" transform="rotate(-90 686.6 817.8)" textLength="297.8" lengthAdjust="spacing">NeuN-density striatum (% CT)</text>
</g>
<g id="panel_e">
<text x="990" y="494.5" font-size="48" text-anchor="start">e</text>
<text x="1130.7" y="502.9" font-size="22" text-anchor="middle">CL</text>
<text x="1259.2" y="502.9" font-size="22" text-anchor="middle">IL</text>
<text x="1025.3" y="598.8" font-size="22" text-anchor="middle" transform="rotate(-90 1025.3 598.8)">PBS</text>
<text x="1025.3" y="776.9" font-size="22" text-anchor="middle" transform="rotate(-90 1025.3 776.9)">BapB-PFF</text>
<g clip-path="url(#cpe)">
<rect x="1039" y="511.5" width="308.8" height="362.2" fill="#fff"/>
<polygon points="1047.31,603.9 1051.43,579.17 1066.26,554.45 1092.63,536.32 1122.3,528.08 1145.38,526.43 1165.16,523.13 1188.23,528.08 1211.31,526.43 1244.27,526.43 1273.94,531.37 1300.31,544.56 1320.09,567.63 1328.34,590.71 1328.34,617.08 1320.09,640.16 1306.91,658.29 1287.13,671.47 1264.05,671.47 1244.27,659.94 1219.55,653.34 1194.83,651.7 1184.94,648.4 1175.05,651.7 1153.62,658.29 1135.49,669.83 1115.71,678.07 1095.93,676.42 1076.15,661.58 1059.67,640.16 1049.78,620.38" fill="#efefef" opacity="1" filter="url(#Eb25)"/>
<polygon points="1067.91,603.9 1072.85,577.52 1089.34,557.74 1115.71,544.56 1145.38,539.61 1188.23,541.26 1236.03,539.61 1273.94,546.21 1297.02,562.69 1310.2,587.41 1310.2,617.08 1300.31,640.16 1283.83,653.34 1264.05,653.34 1244.27,645.1 1219.55,640.16 1188.23,636.86 1155.27,641.81 1132.19,653.34 1112.41,659.94 1095.93,656.64 1079.45,641.81 1069.56,623.67" fill="#e2e2e2" opacity="1" filter="url(#Eb5)"/>
<polyline points="1214.61,542.09 1244.27,543.73 1273.94,547.85 1293.72,559.39" fill="none" stroke="#b4b4b4" stroke-width="9" stroke-linecap="round" stroke-linejoin="round" opacity="0.85" filter="url(#Eb5)"/>
<polyline points="1155.27,547.85 1188.23,554.45 1219.55,547.85" fill="none" stroke="#cfcfcf" stroke-width="14" stroke-linecap="round" stroke-linejoin="round" opacity="0.9" filter="url(#Eb5)"/>
<polygon points="1122.3,570.93 1102.52,574.23 1086.04,590.71 1078.62,610.49 1081.1,626.97 1092.63,638.51 1105.82,642.63 1116.53,640.16 1117.03,626.97 1114.89,610.49 1118.18,590.71 1123.13,577.52" fill="#8e8e8e" opacity="1" filter="url(#Eb25)"/>
<polygon points="1258.28,565.99 1273.94,570.93 1288.78,582.47 1298.67,598.95 1300.31,613.79 1293.72,626.97 1280.54,635.21 1266.53,635.21 1264.05,625.32 1266.03,610.49 1263.23,594.01 1259.44,579.17" fill="#969696" opacity="1" filter="url(#Eb25)"/>
<ellipse cx="1161.86" cy="617.08" rx="31.32" ry="24.72" fill="#ececec" opacity="0.85" filter="url(#Eb5)"/>
<ellipse cx="1219.55" cy="617.08" rx="31.32" ry="24.72" fill="#ececec" opacity="0.85" filter="url(#Eb5)"/>
<polyline points="1143.73,585.76 1161.86,577.52 1186.58,570.11" fill="none" stroke="#9c9c9c" stroke-width="7.5" stroke-linecap="round" stroke-linejoin="round" opacity="1" filter="url(#Eb15)"/>
<polyline points="1196.47,572.58 1219.55,580 1240.98,584.94" fill="none" stroke="#8c8c8c" stroke-width="7.5" stroke-linecap="round" stroke-linejoin="round" opacity="1" filter="url(#Eb15)"/>
<polygon points="1140.43,537.97 1155.27,534.67 1160.21,554.45 1155.27,570.93 1145.38,590.71 1135.49,587.41 1132.19,570.93 1142.08,554.45" fill="#ffffff" opacity="1" filter="url(#Eb15)"/>
<ellipse cx="1236.03" cy="569.28" rx="11.21" ry="12.86" fill="#ffffff" opacity="1" filter="url(#Eb18)"/>
<ellipse cx="1189.06" cy="585.76" rx="9.89" ry="11.54" fill="#f8f8f8" opacity="1" filter="url(#Eb18)"/>
<ellipse cx="1184.94" cy="646.75" rx="4.12" ry="6.59" fill="#ffffff" opacity="1" filter="url(#Eb15)"/>
<polygon points="1048.13,782.3 1053.08,759.23 1067.91,736.15 1095.93,719.67 1128.9,713.08 1161.86,709.78 1191.53,708.13 1227.79,711.43 1269,714.72 1301.96,722.97 1325.04,739.45 1338.22,769.12 1343.17,808.67 1338.22,811.97 1331.63,782.3 1326.69,782.3 1316.8,805.38 1297.02,826.81 1287.13,838.34 1269,844.94 1252.52,838.34 1227.79,833.4 1194.83,835.05 1188.23,831.75 1161.86,835.05 1142.08,838.34 1122.3,848.23 1095.93,853.18 1079.45,844.94 1062.97,821.86 1051.43,802.08" fill="#f1f1f1" opacity="1" filter="url(#Eb25)"/>
<polygon points="1067.91,785.6 1072.85,762.52 1089.34,744.39 1115.71,732.85 1145.38,727.91 1188.23,727.91 1236.03,729.56 1273.94,736.15 1297.02,750.99 1310.2,772.41 1306.91,798.79 1293.72,821.86 1273.94,835.05 1252.52,830.1 1227.79,825.16 1191.53,825.16 1155.27,826.81 1132.19,835.05 1112.41,841.64 1095.93,838.34 1079.45,825.16 1069.56,805.38" fill="#e4e4e4" opacity="1" filter="url(#Eb5)"/>
<ellipse cx="1188.23" cy="731.21" rx="32.97" ry="21.43" fill="#cccccc" opacity="0.9" filter="url(#Eb5)"/>
<ellipse cx="1188.23" cy="721.32" rx="6.26" ry="7.91" fill="#7c7c7c" opacity="1" filter="url(#Eb15)"/>
<polygon points="1122.3,747.69 1107.47,750.99 1092.63,762.52 1082.74,779.01 1081.1,795.49 1087.69,810.32 1099.23,818.56 1112.41,816.92 1117.03,808.67 1115.38,792.19 1118.18,772.41 1124.28,759.23" fill="#909090" opacity="1" filter="url(#Eb25)"/>
<polygon points="1260.76,744.39 1277.24,749.34 1292.07,762.52 1298.67,782.3 1293.72,802.08 1287.13,811.97 1290.43,821.86 1280.54,835.05 1269,844.94 1267.35,831.75 1277.24,821.86 1260.76,808.67 1264.05,788.9 1257.46,769.12" fill="#a4a4a4" opacity="1" filter="url(#Eb3)"/>
<ellipse cx="1275.59" cy="806.2" rx="11.54" ry="8.24" fill="#7e7e7e" opacity="0.9" filter="url(#Eb3)"/>
<ellipse cx="1161.86" cy="795.49" rx="29.67" ry="23.08" fill="#eeeeee" opacity="0.85" filter="url(#Eb5)"/>
<ellipse cx="1219.55" cy="795.49" rx="28.02" ry="23.08" fill="#eeeeee" opacity="0.85" filter="url(#Eb5)"/>
<polygon points="1140.43,760.88 1155.27,750.99 1178.34,744.39 1188.23,746.04 1181.64,752.63 1161.86,759.23 1145.38,767.47" fill="#a2a2a2" opacity="1" filter="url(#Eb15)"/>
<polygon points="1193.18,744.39 1211.31,739.45 1229.44,737.8 1231.09,746.04 1217.9,754.28 1203.07,752.63" fill="#a8a8a8" opacity="1" filter="url(#Eb15)"/>
<polyline points="1132.19,752.63 1142.08,769.12 1155.27,764.17 1170.1,760.88" fill="none" stroke="#ffffff" stroke-width="3.5" stroke-linecap="round" stroke-linejoin="round" opacity="1" filter="url(#Eb10)"/>
<polyline points="1204.72,764.17 1219.55,762.52 1236.03,769.12 1249.22,765.82 1255.81,746.04" fill="none" stroke="#ffffff" stroke-width="3.5" stroke-linecap="round" stroke-linejoin="round" opacity="1" filter="url(#Eb10)"/>
<ellipse cx="1188.23" cy="820.21" rx="3.63" ry="4.94" fill="#8e8e8e" opacity="1" filter="url(#Eb10)"/>
<ellipse cx="1052.75" cy="767.8" rx="2.31" ry="2.31" fill="#a0a0a0" opacity="1" filter="url(#Eb10)"/>
</g>
<line x1="1040.5" y1="705.2" x2="1342" y2="705.2" stroke="#000" stroke-width="2" stroke-linecap="butt"/>
<rect x="1040" y="512.2" width="306.8" height="360.8" fill="none" stroke="#000" stroke-width="2"/>
</g>
<g id="panel_f">
<text x="1359.5" y="494.5" font-size="48" text-anchor="start">f</text>
<text x="1465.2" y="502.9" font-size="22" text-anchor="middle">CL</text>
<text x="1593.2" y="502.9" font-size="22" text-anchor="middle">IL</text>
<g clip-path="url(#cpf)">
<rect x="1359.6" y="513.5" width="321.8" height="360.2" fill="#fff"/>
<g clip-path="url(#cpf1)">
<rect x="1359.6" y="513.5" width="321.8" height="175" fill="#e9e9e9"/>
<ellipse cx="1520.35" cy="515.19" rx="167.29" ry="191.92" fill="#d9d9d9" opacity="1" filter="url(#Fb15)"/>
<ellipse cx="1520.35" cy="555.95" rx="118.89" ry="50.95" fill="#e2e2e2" opacity="0.9" filter="url(#Fb8)"/>
<rect x="1359.6" y="513.5" width="321.8" height="175" filter="url(#Fm)" opacity="0.45"/>
<polyline points="1394.16,600.11 1426.43,634.08 1468.89,668.04" fill="none" stroke="#8a8a8a" stroke-width="24" stroke-linecap="round" stroke-linejoin="round" opacity="0.6" filter="url(#Fb5)"/>
<polyline points="1655.71,584.82 1621.74,623.89 1577.58,662.95" fill="none" stroke="#8a8a8a" stroke-width="24" stroke-linecap="round" stroke-linejoin="round" opacity="0.6" filter="url(#Fb5)"/>
<polyline points="1400.95,596.71 1451.9,623.89 1490.96,620.49" fill="none" stroke="#909090" stroke-width="16" stroke-linecap="round" stroke-linejoin="round" opacity="0.55" filter="url(#Fb5)"/>
<polyline points="1647.21,586.52 1596.26,622.19 1560.6,617.09" fill="none" stroke="#909090" stroke-width="16" stroke-linecap="round" stroke-linejoin="round" opacity="0.55" filter="url(#Fb5)"/>
<polygon points="1386.51,588.22 1406.05,595.01 1431.52,610.3 1451.9,613.7 1468.89,617.09 1485.87,613.7 1490.96,605.2 1494.36,623.89 1496.06,640.87 1485.87,657.85 1479.08,668.38 1465.49,661.25 1445.11,644.27 1417.93,623.89 1386.51,590.43" fill="#161616" opacity="0.97" filter="url(#Fv)"/>
<polygon points="1662.84,570.39 1647.21,579.73 1630.23,596.71 1611.55,610.3 1587.77,613.7 1570.79,610.3 1559.24,596.71 1557.2,613.7 1560.6,634.08 1569.09,652.76 1575.88,663.29 1580.98,657.85 1594.57,644.27 1614.95,627.28 1635.33,610.3 1648.91,589.92 1664.54,572.6" fill="#161616" opacity="0.97" filter="url(#Fv)"/>
<ellipse cx="1503.7" cy="613.7" rx="5.77" ry="16.13" fill="#f3f3f3" opacity="1" filter="url(#Fb15)" transform="rotate(-4 1503.7 613.7)"/>
<ellipse cx="1550.41" cy="610.3" rx="6.11" ry="16.98" fill="#f3f3f3" opacity="1" filter="url(#Fb15)" transform="rotate(-6 1550.41 610.3)"/>
<ellipse cx="1524.93" cy="615.39" rx="5.1" ry="20.38" fill="#e8e8e8" opacity="0.8" filter="url(#Fb3)"/>
<ellipse cx="1519.84" cy="649.36" rx="1.7" ry="5.1" fill="#f6f6f6" opacity="1" filter="url(#Fb10)"/>
<ellipse cx="1526.63" cy="658.7" rx="2.89" ry="3.06" fill="#6a6a6a" opacity="1" filter="url(#Fb10)"/>
<ellipse cx="1518.14" cy="656.49" rx="2.04" ry="1.36" fill="#888" opacity="1" filter="url(#Fb10)"/>
<ellipse cx="1583.53" cy="683.67" rx="6.79" ry="2.04" fill="#666" opacity="1" filter="url(#Fb10)"/>
<polyline points="1541.07,551.71 1547.01,557.65 1558.9,566.99 1576.73,569.54" fill="none" stroke="#8e8e8e" stroke-width="1.2" stroke-linecap="round" stroke-linejoin="round" opacity="0.9" filter="url(#Fb07)"/>
<polyline points="1361.04,589.92 1368.68,613.7 1383.97,644.27 1406.05,687.07" fill="none" stroke="#8a8a8a" stroke-width="1.1" stroke-linecap="round" stroke-linejoin="round" opacity="0.6" filter="url(#Fb07)"/>
<polyline points="1679.82,600.11 1672.69,620.49 1664.2,634.08" fill="none" stroke="#808080" stroke-width="1.4" stroke-linecap="round" stroke-linejoin="round" opacity="0.7" filter="url(#Fb07)"/>
<polyline points="1664.2,634.08 1645.52,664.65 1625.14,687.07" fill="none" stroke="#bcbcbc" stroke-width="1.1" stroke-linecap="round" stroke-linejoin="round" opacity="0.7" filter="url(#Fb07)"/>
<rect x="1359.6" y="513.5" width="321.8" height="175" filter="url(#Fs)" opacity="0.75"/>
</g>
<rect x="1359.6" y="701.2" width="321.8" height="4" fill="#d6d6d6"/>
<g clip-path="url(#cpf2)">
<rect x="1359.6" y="705.2" width="321.8" height="169" fill="#ebebeb"/>
<ellipse cx="1517.29" cy="679.71" rx="163.04" ry="195.31" fill="#dadada" opacity="1" filter="url(#Fb15)"/>
<ellipse cx="1519.84" cy="745.95" rx="115.49" ry="44.16" fill="#e3e3e3" opacity="0.9" filter="url(#Fb8)"/>
<rect x="1359.6" y="705.2" width="321.8" height="169" filter="url(#Fm)" opacity="0.45"/>
<polyline points="1397.55,783.32 1429.82,824.08 1467.19,851.25" fill="none" stroke="#8a8a8a" stroke-width="26" stroke-linecap="round" stroke-linejoin="round" opacity="0.6" filter="url(#Fb5)"/>
<polyline points="1648.91,751.05 1614.95,790.11 1570.79,841.06" fill="none" stroke="#9a9a9a" stroke-width="26" stroke-linecap="round" stroke-linejoin="round" opacity="0.55" filter="url(#Fb5)"/>
<polyline points="1406.05,783.32 1451.9,810.49 1490.96,800.3" fill="none" stroke="#909090" stroke-width="16" stroke-linecap="round" stroke-linejoin="round" opacity="0.55" filter="url(#Fb5)"/>
<polyline points="1604.76,790.11 1575.88,803.7 1553.8,796.9" fill="none" stroke="#9a9a9a" stroke-width="18" stroke-linecap="round" stroke-linejoin="round" opacity="0.55" filter="url(#Fb5)"/>
<polygon points="1390.76,769.73 1406.05,776.52 1423.03,790.11 1445.11,796.9 1465.49,800.3 1482.47,790.11 1499.46,771.43 1494.36,790.11 1490.96,810.49 1482.47,830.87 1470.58,849.89 1451.9,835.96 1431.52,818.98 1411.14,800.3 1390.76,774.82" fill="#1a1a1a" opacity="0.97" filter="url(#Fv)"/>
<polygon points="1614.95,769.73 1601.36,779.92 1584.38,790.11 1570.79,786.71 1557.54,773.12 1548.71,790.11 1550.41,810.49 1562.3,824.08 1569.09,841.06 1575.88,829.17 1587.77,813.89 1604.76,796.9 1618.34,779.92" fill="#2c2c2c" opacity="0.93" filter="url(#Fv)"/>
<polygon points="1655.71,735.76 1638.72,745.95 1621.74,762.93 1611.55,771.43 1618.34,779.92 1638.72,759.54 1657.74,738.82" fill="#6e6e6e" opacity="0.8" filter="url(#Fv)"/>
<ellipse cx="1500.31" cy="795.2" rx="4.76" ry="14.44" fill="#f3f3f3" opacity="1" filter="url(#Fb15)" transform="rotate(-3 1500.31 795.2)"/>
<ellipse cx="1541.92" cy="793.51" rx="4.76" ry="14.44" fill="#f3f3f3" opacity="1" filter="url(#Fb15)" transform="rotate(-5 1541.92 793.51)"/>
<polygon points="1519.84,824.08 1528.33,822.38 1532.57,830.87 1528.33,839.36 1519.84,841.06 1515.59,834.27" fill="#4a4a4a" opacity="0.95" filter="url(#Fv)"/>
<ellipse cx="1541.92" cy="846.15" rx="1.7" ry="2.04" fill="#777" opacity="1" filter="url(#Fb10)"/>
<polyline points="1567.39,864.84 1579.28,869.93 1604.76,868.23 1620.04,858.04" fill="none" stroke="#8a8a8a" stroke-width="1.4" stroke-linecap="round" stroke-linejoin="round" opacity="0.9" filter="url(#Fb07)"/>
<polyline points="1361.04,757.84 1370.38,790.11 1385.67,827.47 1406.05,871.63" fill="none" stroke="#a0a0a0" stroke-width="1.1" stroke-linecap="round" stroke-linejoin="round" opacity="0.8" filter="url(#Fb07)"/>
<polyline points="1673.54,757.84 1665.9,783.32 1662.5,790.11" fill="none" stroke="#808080" stroke-width="1.3" stroke-linecap="round" stroke-linejoin="round" opacity="0.7" filter="url(#Fb07)"/>
<polyline points="1662.5,790.11 1642.12,837.66 1614.95,871.63" fill="none" stroke="#b4b4b4" stroke-width="1.1" stroke-linecap="round" stroke-linejoin="round" opacity="0.8" filter="url(#Fb07)"/>
<rect x="1359.6" y="705.2" width="321.8" height="169" filter="url(#Fs)" opacity="0.75"/>
</g>
</g>
<line x1="1360" y1="705.2" x2="1681" y2="705.2" stroke="#000" stroke-width="2.2" stroke-linecap="butt"/>
<rect x="1360.7" y="514.6" width="319.6" height="358" fill="none" stroke="#000" stroke-width="2.2"/>
</g>
<g id="panel_g">
<text x="1684.5" y="493.7" font-size="48" text-anchor="start">g</text>
<g clip-path="url(#cpg)">
<rect x="1712.5" y="525.8" width="278.3" height="267.8" fill="#d9c5b6"/>
<rect x="1712.5" y="525.8" width="278.3" height="267.8" filter="url(#gn)"/>
<rect x="1712.5" y="525.8" width="278.3" height="267.8" filter="url(#gm)" opacity="0.18"/>
<ellipse cx="1802.38" cy="582.29" rx="2.8" ry="2.29" fill="#c8794c" opacity="0.6" filter="url(#Gb10)"/>
<ellipse cx="1848.21" cy="544.1" rx="2.8" ry="2.29" fill="#c8794c" opacity="0.6" filter="url(#Gb10)"/>
<ellipse cx="1891.49" cy="533.92" rx="2.8" ry="2.29" fill="#c8794c" opacity="0.6" filter="url(#Gb10)"/>
<ellipse cx="1858.39" cy="587.38" rx="2.8" ry="2.29" fill="#c8794c" opacity="0.6" filter="url(#Gb10)"/>
<ellipse cx="1843.12" cy="596.29" rx="2.8" ry="2.29" fill="#c8794c" opacity="0.6" filter="url(#Gb10)"/>
<ellipse cx="1882.58" cy="617.93" rx="2.8" ry="2.29" fill="#c8794c" opacity="0.6" filter="url(#Gb10)"/>
<ellipse cx="1866.03" cy="630.66" rx="2.8" ry="2.29" fill="#c8794c" opacity="0.6" filter="url(#Gb10)"/>
<ellipse cx="1848.21" cy="645.43" rx="2.8" ry="2.29" fill="#c8794c" opacity="0.6" filter="url(#Gb10)"/>
<ellipse cx="1792.2" cy="656.12" rx="2.8" ry="2.29" fill="#c8794c" opacity="0.6" filter="url(#Gb10)"/>
<ellipse cx="1762.92" cy="663.76" rx="2.8" ry="2.29" fill="#c8794c" opacity="0.6" filter="url(#Gb10)"/>
<ellipse cx="1820.2" cy="673.94" rx="2.8" ry="2.29" fill="#c8794c" opacity="0.6" filter="url(#Gb10)"/>
<ellipse cx="1877.48" cy="677.76" rx="2.8" ry="2.29" fill="#c8794c" opacity="0.6" filter="url(#Gb10)"/>
<ellipse cx="1747.65" cy="700.67" rx="2.8" ry="2.29" fill="#c8794c" opacity="0.6" filter="url(#Gb10)"/>
<ellipse cx="1797.29" cy="712.13" rx="2.8" ry="2.29" fill="#c8794c" opacity="0.6" filter="url(#Gb10)"/>
<ellipse cx="1843.12" cy="714.67" rx="2.8" ry="2.29" fill="#c8794c" opacity="0.6" filter="url(#Gb10)"/>
<ellipse cx="1873.67" cy="701.95" rx="2.8" ry="2.29" fill="#c8794c" opacity="0.6" filter="url(#Gb10)"/>
<ellipse cx="1812.57" cy="742.68" rx="2.8" ry="2.29" fill="#c8794c" opacity="0.6" filter="url(#Gb10)"/>
<ellipse cx="1785.84" cy="759.23" rx="2.8" ry="2.29" fill="#c8794c" opacity="0.6" filter="url(#Gb10)"/>
<ellipse cx="1746.37" cy="756.68" rx="2.8" ry="2.29" fill="#c8794c" opacity="0.6" filter="url(#Gb10)"/>
<ellipse cx="1950.04" cy="579.75" rx="2.8" ry="2.29" fill="#c8794c" opacity="0.6" filter="url(#Gb10)"/>
<ellipse cx="1920.76" cy="588.66" rx="2.8" ry="2.29" fill="#c8794c" opacity="0.6" filter="url(#Gb10)"/>
<ellipse cx="1957.68" cy="642.12" rx="2.8" ry="2.29" fill="#c8794c" opacity="0.6" filter="url(#Gb10)"/>
<ellipse cx="1985.68" cy="684.12" rx="2.8" ry="2.29" fill="#c8794c" opacity="0.6" filter="url(#Gb10)"/>
<ellipse cx="1932.22" cy="710.86" rx="2.8" ry="2.29" fill="#c8794c" opacity="0.6" filter="url(#Gb10)"/>
<ellipse cx="1950.04" cy="717.22" rx="2.8" ry="2.29" fill="#c8794c" opacity="0.6" filter="url(#Gb10)"/>
<ellipse cx="1978.04" cy="728.68" rx="2.8" ry="2.29" fill="#c8794c" opacity="0.6" filter="url(#Gb10)"/>
<ellipse cx="1922.04" cy="742.68" rx="2.8" ry="2.29" fill="#c8794c" opacity="0.6" filter="url(#Gb10)"/>
<ellipse cx="1914.4" cy="763.04" rx="2.8" ry="2.29" fill="#c8794c" opacity="0.6" filter="url(#Gb10)"/>
<ellipse cx="1946.22" cy="787.23" rx="2.8" ry="2.29" fill="#c8794c" opacity="0.6" filter="url(#Gb10)"/>
<ellipse cx="1972.95" cy="769.41" rx="2.8" ry="2.29" fill="#c8794c" opacity="0.6" filter="url(#Gb10)"/>
<ellipse cx="1775.65" cy="699.4" rx="2.8" ry="2.29" fill="#c8794c" opacity="0.6" filter="url(#Gb10)"/>
<ellipse cx="1859.66" cy="732.49" rx="2.8" ry="2.29" fill="#c8794c" opacity="0.6" filter="url(#Gb10)"/>
<ellipse cx="1832.93" cy="731.22" rx="2.8" ry="2.29" fill="#c8794c" opacity="0.6" filter="url(#Gb10)"/>
<ellipse cx="1899.12" cy="757.95" rx="2.8" ry="2.29" fill="#c8794c" opacity="0.6" filter="url(#Gb10)"/>
<ellipse cx="1727.28" cy="708.31" rx="14" ry="15.27" fill="#e9e6e2" opacity="0.95" filter="url(#Gb3)"/>
<ellipse cx="1715.32" cy="698.13" rx="2.55" ry="5.6" fill="#b4622e" opacity="0.9" filter="url(#Gb10)"/>
<ellipse cx="1787.62" cy="614.11" rx="16.8" ry="18.33" fill="#e3d8cf" opacity="0.75" filter="url(#Gb3)"/>
<ellipse cx="1885.12" cy="740.13" rx="15.27" ry="15.27" fill="#e5dcd2" opacity="0.75" filter="url(#Gb3)"/>
<ellipse cx="1803.66" cy="597.06" rx="2.04" ry="2.8" fill="#f7f4f1" opacity="1" filter="url(#Gb07)"/>
<ellipse cx="1829.11" cy="587.38" rx="2.8" ry="3.31" fill="#f3efeb" opacity="1" filter="url(#Gb07)"/>
<ellipse cx="1878.76" cy="674.45" rx="3.31" ry="3.05" fill="#ece8e2" opacity="1" filter="url(#Gb07)"/>
<ellipse cx="1778.96" cy="612.33" rx="7.64" ry="5.6" fill="#b4541a" opacity="0.95" filter="url(#Gb07)"/>
<ellipse cx="1790.16" cy="610.8" rx="6.62" ry="6.11" fill="#8a3008" opacity="1" filter="url(#Gb07)"/>
<ellipse cx="1783.54" cy="619.97" rx="8.15" ry="9.16" fill="#a6400e" opacity="1" filter="url(#Gb07)"/>
<ellipse cx="1783.8" cy="623.02" rx="4.58" ry="6.11" fill="#6a2004" opacity="1" filter="url(#Gb07)"/>
<ellipse cx="1776.42" cy="617.93" rx="3.05" ry="3.56" fill="#c86a2a" opacity="0.9" filter="url(#Gb07)"/>
<ellipse cx="1766.74" cy="606.48" rx="2.04" ry="7.64" fill="#c98354" opacity="0.8" filter="url(#Gb10)" transform="rotate(10 1766.74 606.48)"/>
<ellipse cx="1894.03" cy="734.53" rx="6.87" ry="8.4" fill="#86300a" opacity="1" filter="url(#Gb07)"/>
<ellipse cx="1893.52" cy="735.55" rx="3.82" ry="6.11" fill="#3a0e02" opacity="1" filter="url(#Gb07)"/>
<ellipse cx="1900.4" cy="729.95" rx="2.55" ry="4.07" fill="#a4481a" opacity="0.9" filter="url(#Gb07)" transform="rotate(30 1900.4 729.95)"/>
<ellipse cx="1858.9" cy="732.49" rx="2.04" ry="3.05" fill="#a85a20" opacity="0.9" filter="url(#Gb07)"/>
<ellipse cx="1909.31" cy="736.31" rx="2.04" ry="3.05" fill="#c0703a" opacity="0.8" filter="url(#Gb10)"/>
<ellipse cx="1899.12" cy="750.32" rx="10.18" ry="2.55" fill="#c98354" opacity="0.55" filter="url(#Gb10)"/>
</g>
<rect x="1713.5" y="526.8" width="276.3" height="265.8" fill="none" stroke="#000" stroke-width="2"/>
<line x1="1752" y1="556.8" x2="1763.07" y2="576.84" stroke="#000" stroke-width="2.8" stroke-linecap="butt"/>
<polygon points="1766.7,583.4 1765.56,569.75 1762.35,575.52 1755.75,575.17"/>
<line x1="1940.4" y1="687.2" x2="1924.66" y2="700.88" stroke="#000" stroke-width="2.8" stroke-linecap="butt"/>
<polygon points="1919,705.8 1932.11,701.83 1925.79,699.9 1924.76,693.37"/>
<line x1="1729" y1="777.8" x2="1746" y2="777.8" stroke="#000" stroke-width="4" stroke-linecap="butt"/>
<text x="1761" y="782.1" font-size="19.5" text-anchor="start" textLength="56.5" lengthAdjust="spacing">20 µm</text>
</g>
<g id="panel_h">
<text x="11.7" y="917" font-size="48" text-anchor="start">h</text>
<line x1="106.7" y1="929.4" x2="106.7" y2="1196.4" stroke="#000" stroke-width="3.2" stroke-linecap="butt"/>
<line x1="99.8" y1="1194.8" x2="336.7" y2="1194.8" stroke="#000" stroke-width="3.5" stroke-linecap="butt"/>
<text x="95" y="1200.26" font-size="19.8" text-anchor="end">0</text>
<line x1="99.3" y1="1106.6" x2="106.7" y2="1106.6" stroke="#000" stroke-width="3" stroke-linecap="butt"/>
<text x="94.2" y="1114.46" font-size="19.8" text-anchor="end">50</text>
<line x1="99.3" y1="1019.3" x2="106.7" y2="1019.3" stroke="#000" stroke-width="3" stroke-linecap="butt"/>
<text x="93.8" y="1029.06" font-size="19.8" text-anchor="end">100</text>
<line x1="99.3" y1="930.9" x2="106.7" y2="930.9" stroke="#000" stroke-width="3" stroke-linecap="butt"/>
<text x="93.8" y="941.66" font-size="19.8" text-anchor="end">150</text>
<rect x="115.3" y="1025.4" width="36.8" height="169.4" fill="#fff" stroke="#000" stroke-width="3"/>
<rect x="172.8" y="977.6" width="36.3" height="217.2" fill="#ff807c" stroke="#000" stroke-width="3"/>
<rect x="229.6" y="1022" width="36.8" height="172.8" fill="#fff" stroke="#000" stroke-width="3"/>
<rect x="287.1" y="978.6" width="36.5" height="216.2" fill="#ff807c" stroke="#000" stroke-width="3"/>
<line x1="133.93" y1="1023.9" x2="133.93" y2="1012.39" stroke="#000" stroke-width="3" stroke-linecap="butt"/>
<line x1="123.43" y1="1012.39" x2="144.43" y2="1012.39" stroke="#000" stroke-width="3" stroke-linecap="butt"/>
<line x1="192.35" y1="976.1" x2="192.35" y2="968.52" stroke="#000" stroke-width="3" stroke-linecap="butt"/>
<line x1="181.85" y1="968.52" x2="202.85" y2="968.52" stroke="#000" stroke-width="3" stroke-linecap="butt"/>
<line x1="248.23" y1="1020.5" x2="248.23" y2="1008.93" stroke="#000" stroke-width="3" stroke-linecap="butt"/>
<line x1="237.73" y1="1008.93" x2="258.73" y2="1008.93" stroke="#000" stroke-width="3" stroke-linecap="butt"/>
<line x1="304.81" y1="977.1" x2="304.81" y2="968.52" stroke="#000" stroke-width="3" stroke-linecap="butt"/>
<line x1="294.31" y1="968.52" x2="315.31" y2="968.52" stroke="#000" stroke-width="3" stroke-linecap="butt"/>
<circle cx="128.62" cy="993.23" r="4"/>
<circle cx="135.78" cy="995.08" r="4"/>
<circle cx="135.78" cy="1020.48" r="4"/>
<circle cx="128.62" cy="1032.02" r="4"/>
<circle cx="135.78" cy="1033.87" r="4"/>
<circle cx="135.78" cy="1070.58" r="4"/>
<circle cx="192.81" cy="943.12" r="4"/>
<circle cx="199.74" cy="941.27" r="4"/>
<circle cx="185.89" cy="966.21" r="4"/>
<circle cx="199.74" cy="963.9" r="4"/>
<circle cx="192.81" cy="969.68" r="4"/>
<circle cx="199.74" cy="974.76" r="4"/>
<circle cx="192.81" cy="979.37" r="4"/>
<circle cx="192.81" cy="988.61" r="4"/>
<circle cx="199.74" cy="1014.01" r="4"/>
<circle cx="192.81" cy="1020.94" r="4"/>
<circle cx="249.85" cy="977.76" r="4"/>
<circle cx="249.85" cy="1004.31" r="4"/>
<circle cx="249.85" cy="1020.48" r="4"/>
<circle cx="242.92" cy="1027.87" r="4"/>
<circle cx="249.85" cy="1032.48" r="4"/>
<circle cx="249.85" cy="1061.12" r="4"/>
<circle cx="307.12" cy="937.35" r="4"/>
<circle cx="300.19" cy="951.2" r="4"/>
<circle cx="307.12" cy="956.51" r="4"/>
<circle cx="307.12" cy="967.37" r="4"/>
<circle cx="300.19" cy="971.98" r="4"/>
<circle cx="307.12" cy="980.07" r="4"/>
<circle cx="313.58" cy="985.38" r="4"/>
<circle cx="307.12" cy="991.61" r="4"/>
<circle cx="307.12" cy="1011.24" r="4"/>
<circle cx="307.12" cy="1020.48" r="4"/>
<line x1="118.5" y1="1208.7" x2="199" y2="1208.7" stroke="#000" stroke-width="3.5" stroke-linecap="butt"/>
<line x1="235.5" y1="1208.7" x2="316.4" y2="1208.7" stroke="#000" stroke-width="3.5" stroke-linecap="butt"/>
<text x="161.2" y="1233.4" font-size="22" text-anchor="middle">CL</text>
<text x="276.6" y="1233.4" font-size="22" text-anchor="middle">IL</text>
<line x1="122.4" y1="926.3" x2="185.2" y2="926.3" stroke="#000" stroke-width="3" stroke-linecap="butt"/>
<text x="153.6" y="921.8" font-size="28" text-anchor="middle">**</text>
<line x1="257" y1="925.1" x2="319.8" y2="925.1" stroke="#000" stroke-width="3" stroke-linecap="butt"/>
<text x="289.8" y="920.6" font-size="28" text-anchor="middle">*</text>
<text x="44.6" y="1170.6" font-size="22" text-anchor="start" transform="rotate(-90 44.6 1170.6)" textLength="217.1" lengthAdjust="spacing">PSyn-density (% CT)</text>
</g>
<g id="panel_i">
<text x="377.5" y="915" font-size="48" text-anchor="start">i</text>
<line x1="460.7" y1="899.2" x2="460.7" y2="1193.5" stroke="#000" stroke-width="3.2" stroke-linecap="butt"/>
<line x1="451.7" y1="1191.9" x2="822.9" y2="1191.9" stroke="#000" stroke-width="3.5" stroke-linecap="butt"/>
<text x="444.5" y="1193.53" font-size="20.54" text-anchor="end">0</text>
<line x1="451.7" y1="1133.7" x2="460.7" y2="1133.7" stroke="#000" stroke-width="3" stroke-linecap="butt"/>
<text x="441.6" y="1140.33" font-size="20.54" text-anchor="end">50</text>
<line x1="451.7" y1="1075.6" x2="460.7" y2="1075.6" stroke="#000" stroke-width="3" stroke-linecap="butt"/>
<text x="446.9" y="1082.63" font-size="20.54" text-anchor="end">100</text>
<line x1="451.7" y1="1017.7" x2="460.7" y2="1017.7" stroke="#000" stroke-width="3" stroke-linecap="butt"/>
<text x="446.9" y="1022.03" font-size="20.54" text-anchor="end">150</text>
<line x1="451.7" y1="958.9" x2="460.7" y2="958.9" stroke="#000" stroke-width="3" stroke-linecap="butt"/>
<text x="446.9" y="965.73" font-size="20.54" text-anchor="end">200</text>
<line x1="451.7" y1="900.7" x2="460.7" y2="900.7" stroke="#000" stroke-width="3" stroke-linecap="butt"/>
<text x="446.9" y="906.33" font-size="20.54" text-anchor="end">250</text>
<rect x="470.6" y="1077.1" width="38.9" height="114.8" fill="#fff" stroke="#000" stroke-width="3"/>
<rect x="529.9" y="1075.7" width="37.8" height="116.2" fill="#ff807c" stroke="#000" stroke-width="3"/>
<rect x="588.6" y="1077.1" width="38.4" height="114.8" fill="#fff" stroke="#000" stroke-width="3"/>
<rect x="647.7" y="1072.3" width="38.1" height="119.6" fill="#ff807c" stroke="#000" stroke-width="3"/>
<rect x="706.4" y="1081.3" width="38.7" height="110.6" fill="#fff" stroke="#000" stroke-width="3"/>
<rect x="765.4" y="1140.8" width="38.4" height="51.1" fill="#ff807c" stroke="#000" stroke-width="3"/>
<line x1="490.07" y1="1075.6" x2="490.07" y2="1065.77" stroke="#000" stroke-width="3" stroke-linecap="butt"/>
<line x1="479.57" y1="1065.77" x2="500.57" y2="1065.77" stroke="#000" stroke-width="3" stroke-linecap="butt"/>
<line x1="549.09" y1="1074.2" x2="549.09" y2="1058.22" stroke="#000" stroke-width="3" stroke-linecap="butt"/>
<line x1="538.59" y1="1058.22" x2="559.59" y2="1058.22" stroke="#000" stroke-width="3" stroke-linecap="butt"/>
<line x1="608.11" y1="1075.6" x2="608.11" y2="1051.78" stroke="#000" stroke-width="3" stroke-linecap="butt"/>
<line x1="597.61" y1="1051.78" x2="618.61" y2="1051.78" stroke="#000" stroke-width="3" stroke-linecap="butt"/>
<line x1="667.13" y1="1070.8" x2="667.13" y2="1061.57" stroke="#000" stroke-width="3" stroke-linecap="butt"/>
<line x1="656.63" y1="1061.57" x2="677.63" y2="1061.57" stroke="#000" stroke-width="3" stroke-linecap="butt"/>
<line x1="725.87" y1="1079.8" x2="725.87" y2="1053.18" stroke="#000" stroke-width="3" stroke-linecap="butt"/>
<line x1="715.37" y1="1053.18" x2="736.37" y2="1053.18" stroke="#000" stroke-width="3" stroke-linecap="butt"/>
<line x1="784.9" y1="1139.3" x2="784.9" y2="1134.58" stroke="#000" stroke-width="3" stroke-linecap="butt"/>
<line x1="774.4" y1="1134.58" x2="795.4" y2="1134.58" stroke="#000" stroke-width="3" stroke-linecap="butt"/>
<circle cx="491.47" cy="1041.99" r="4"/>
<circle cx="491.47" cy="1068.01" r="4"/>
<circle cx="483.08" cy="1081.99" r="4"/>
<circle cx="491.47" cy="1084.79" r="4"/>
<circle cx="491.47" cy="1099.62" r="4"/>
<circle cx="550.77" cy="1019.34" r="4"/>
<circle cx="550.77" cy="1060.17" r="4"/>
<circle cx="550.77" cy="1078.64" r="4"/>
<circle cx="550.77" cy="1108.57" r="4"/>
<circle cx="559.16" cy="1105.77" r="4"/>
<circle cx="609.51" cy="1013.18" r="4"/>
<circle cx="609.51" cy="1046.19" r="4"/>
<circle cx="609.51" cy="1074.16" r="4"/>
<circle cx="609.51" cy="1089.83" r="4"/>
<circle cx="609.51" cy="1154.72" r="4"/>
<circle cx="668.25" cy="1046.75" r="4"/>
<circle cx="668.25" cy="1056.82" r="4"/>
<circle cx="668.25" cy="1068.57" r="4"/>
<circle cx="668.25" cy="1081.99" r="4"/>
<circle cx="668.25" cy="1099.62" r="4"/>
<circle cx="727.27" cy="1075.84" r="4"/>
<circle cx="719.44" cy="1108.57" r="4"/>
<circle cx="727.27" cy="1112.2" r="4"/>
<circle cx="735.66" cy="1108.01" r="4"/>
<circle cx="727.27" cy="1121.71" r="4"/>
<circle cx="786.01" cy="1119.2" r="4"/>
<circle cx="786.01" cy="1130.94" r="4"/>
<circle cx="786.01" cy="1139.34" r="4"/>
<circle cx="778.18" cy="1146.89" r="4"/>
<circle cx="786.01" cy="1146.89" r="4"/>
<circle cx="786.01" cy="1154.72" r="4"/>
<line x1="485.9" y1="1200" x2="567" y2="1200" stroke="#000" stroke-width="3.5" stroke-linecap="butt"/>
<line x1="603.4" y1="1200" x2="684.5" y2="1200" stroke="#000" stroke-width="3.5" stroke-linecap="butt"/>
<line x1="720" y1="1200" x2="801.1" y2="1200" stroke="#000" stroke-width="3.5" stroke-linecap="butt"/>
<line x1="725.9" y1="1023.3" x2="787.1" y2="1023.3" stroke="#000" stroke-width="3" stroke-linecap="butt"/>
<text x="755.2" y="1018.8" font-size="28" text-anchor="middle">**</text>
<text x="395" y="1070.8" font-size="22" text-anchor="start" transform="rotate(-90 395 1070.8)" textLength="100.8" lengthAdjust="spacing">qPCR (%)</text>
<text x="525.9" y="1224.7" font-size="22" text-anchor="middle"><tspan font-family="Liberation Serif, DejaVu Serif, serif">α</tspan>-Syn</text>
<text x="640.6" y="1224.7" font-size="22" text-anchor="middle" style="font-style:italic">hsc70</text>
<text x="764.2" y="1224.7" font-size="22" text-anchor="middle" style="font-style:italic">lamp2A</text>
<rect x="755.85" y="889.15" width="22.8" height="22.7" fill="#ff807c" stroke="#000" stroke-width="2.7"/>
<rect x="755.85" y="923.15" width="22.8" height="22.5" fill="#fff" stroke="#000" stroke-width="2.7"/>
<text x="788.3" y="906" font-size="20.3" text-anchor="start">rBap-PFF</text>
<text x="789.5" y="943.8" font-size="26" text-anchor="start">Ø</text>
<circle cx="725.9" cy="915" r="2.6"/>
</g>
<g id="panel_k">
<text x="1472" y="924.1" font-size="48" text-anchor="start">k</text>
<line x1="1563.5" y1="930.2" x2="1563.5" y2="1177.8" stroke="#000" stroke-width="3.2" stroke-linecap="butt"/>
<line x1="1555.1" y1="1176.2" x2="1705.8" y2="1176.2" stroke="#000" stroke-width="3.5" stroke-linecap="butt"/>
<text x="1545.3" y="1177.12" font-size="21.09" text-anchor="end">0</text>
<line x1="1555.1" y1="1127.1" x2="1563.5" y2="1127.1" stroke="#000" stroke-width="3" stroke-linecap="butt"/>
<text x="1545.3" y="1131.22" font-size="21.09" text-anchor="end">50</text>
<line x1="1555.1" y1="1078.5" x2="1563.5" y2="1078.5" stroke="#000" stroke-width="3" stroke-linecap="butt"/>
<text x="1545.3" y="1085.62" font-size="21.09" text-anchor="end">100</text>
<line x1="1555.1" y1="1029.4" x2="1563.5" y2="1029.4" stroke="#000" stroke-width="3" stroke-linecap="butt"/>
<text x="1545.3" y="1039.82" font-size="21.09" text-anchor="end">150</text>
<line x1="1555.1" y1="980.8" x2="1563.5" y2="980.8" stroke="#000" stroke-width="3" stroke-linecap="butt"/>
<text x="1545.3" y="993.72" font-size="21.09" text-anchor="end">200</text>
<line x1="1555.1" y1="931.7" x2="1563.5" y2="931.7" stroke="#000" stroke-width="3" stroke-linecap="butt"/>
<text x="1545.3" y="947.32" font-size="21.09" text-anchor="end">250</text>
<rect x="1575.7" y="1079.5" width="46.1" height="96.7" fill="#fff" stroke="#000" stroke-width="3"/>
<rect x="1647" y="1002.8" width="45.5" height="173.4" fill="#ef807e" stroke="#000" stroke-width="3"/>
<line x1="1598" y1="1176.2" x2="1598" y2="1183.8" stroke="#000" stroke-width="3" stroke-linecap="butt"/>
<line x1="1669.6" y1="1176.2" x2="1669.6" y2="1183.8" stroke="#000" stroke-width="3" stroke-linecap="butt"/>
<line x1="1598.5" y1="1078" x2="1598.5" y2="1051.29" stroke="#000" stroke-width="3" stroke-linecap="butt"/>
<line x1="1586.5" y1="1051.29" x2="1610.5" y2="1051.29" stroke="#000" stroke-width="3" stroke-linecap="butt"/>
<line x1="1669.8" y1="1001.3" x2="1669.8" y2="976.06" stroke="#000" stroke-width="3" stroke-linecap="butt"/>
<line x1="1657.8" y1="976.06" x2="1681.8" y2="976.06" stroke="#000" stroke-width="3" stroke-linecap="butt"/>
<circle cx="1598.04" cy="1000.48" r="3.6"/>
<circle cx="1598.04" cy="1030.8" r="3.6"/>
<circle cx="1598.04" cy="1096.77" r="3.6"/>
<circle cx="1598.04" cy="1122.59" r="3.6"/>
<circle cx="1598.04" cy="1142.24" r="3.6"/>
<circle cx="1669.63" cy="945.18" r="3.6"/>
<circle cx="1669.63" cy="955.57" r="3.6"/>
<circle cx="1669.63" cy="990.09" r="3.6"/>
<circle cx="1669.63" cy="1037.25" r="3.6"/>
<circle cx="1669.63" cy="1080.49" r="3.6"/>
<line x1="1580.4" y1="930.6" x2="1664.6" y2="930.6" stroke="#000" stroke-width="3" stroke-linecap="butt"/>
<text x="1623.9" y="926.1" font-size="28" text-anchor="middle">*</text>
<text x="1491.9" y="1110.8" font-size="22" text-anchor="start" transform="rotate(-90 1491.9 1110.8)" textLength="127.7" lengthAdjust="spacing"><tspan font-family="Liberation Serif, DejaVu Serif, serif">α</tspan>-Syn (% CT)</text>
<text x="1594" y="1208.31" font-size="26" text-anchor="middle">Ø</text>
<text x="1681" y="1203.5" font-size="22" text-anchor="end" transform="rotate(-49 1681 1203.5)">rBapB-PFF</text>
<line x1="1812" y1="931.6" x2="1812" y2="1176.1" stroke="#000" stroke-width="3.2" stroke-linecap="butt"/>
<line x1="1804.1" y1="1174.5" x2="1969.2" y2="1174.5" stroke="#000" stroke-width="3.5" stroke-linecap="butt"/>
<text x="1800.3" y="1175.26" font-size="19.24" text-anchor="end">0</text>
<line x1="1804.1" y1="1094.5" x2="1812" y2="1094.5" stroke="#000" stroke-width="3" stroke-linecap="butt"/>
<text x="1800" y="1097.76" font-size="19.24" text-anchor="end">50</text>
<line x1="1804.1" y1="1013.7" x2="1812" y2="1013.7" stroke="#000" stroke-width="3" stroke-linecap="butt"/>
<text x="1799.5" y="1021.26" font-size="19.24" text-anchor="end">100</text>
<line x1="1804.1" y1="933.1" x2="1812" y2="933.1" stroke="#000" stroke-width="3" stroke-linecap="butt"/>
<text x="1799.5" y="945.06" font-size="19.24" text-anchor="end">150</text>
<rect x="1826.1" y="1014.9" width="49.8" height="159.6" fill="#fff" stroke="#000" stroke-width="3"/>
<rect x="1904.1" y="1044.4" width="49.5" height="130.1" fill="#ef807e" stroke="#000" stroke-width="3"/>
<line x1="1850.4" y1="1174.5" x2="1850.4" y2="1182.4" stroke="#000" stroke-width="3" stroke-linecap="butt"/>
<line x1="1928.4" y1="1174.5" x2="1928.4" y2="1182.4" stroke="#000" stroke-width="3" stroke-linecap="butt"/>
<line x1="1851" y1="1013.4" x2="1851" y2="1008.34" stroke="#000" stroke-width="3" stroke-linecap="butt"/>
<line x1="1839" y1="1008.34" x2="1863" y2="1008.34" stroke="#000" stroke-width="3" stroke-linecap="butt"/>
<line x1="1928.8" y1="1042.9" x2="1928.8" y2="1035.57" stroke="#000" stroke-width="3" stroke-linecap="butt"/>
<line x1="1916.8" y1="1035.57" x2="1940.8" y2="1035.57" stroke="#000" stroke-width="3" stroke-linecap="butt"/>
<circle cx="1850.41" cy="995.15" r="3.6"/>
<circle cx="1844.23" cy="1012.55" r="3.6"/>
<circle cx="1850.41" cy="1019.57" r="3.6"/>
<circle cx="1857.71" cy="1020.97" r="3.6"/>
<circle cx="1850.41" cy="1025.18" r="3.6"/>
<circle cx="1927.89" cy="1028.83" r="3.6"/>
<circle cx="1934.62" cy="1035.57" r="3.6"/>
<circle cx="1927.89" cy="1042.87" r="3.6"/>
<circle cx="1927.89" cy="1071.5" r="3.6"/>
<circle cx="1921.43" cy="1037.82" r="3.6"/>
<line x1="1848.4" y1="957" x2="1932.7" y2="957" stroke="#000" stroke-width="3" stroke-linecap="butt"/>
<text x="1892" y="952.5" font-size="28" text-anchor="middle">**</text>
<text x="1753.8" y="1129.9" font-size="22" text-anchor="start" transform="rotate(-90 1753.8 1129.9)" textLength="156.6" lengthAdjust="spacing">LAMP2A  (% CT)</text>
<text x="1851.8" y="1208.51" font-size="26" text-anchor="middle">Ø</text>
<text x="1935.5" y="1200" font-size="22" text-anchor="end" transform="rotate(-49 1935.5 1200)">rBapB-PFF</text>
</g>
<g id="panel_j">
<text x="959.5" y="922.5" font-size="48" text-anchor="start">j</text>
<g clip-path="url(#cp1)">
<rect x="972.3" y="1018.5" width="122.5" height="131.5" fill="#f9f9f9"/>
<rect x="972.3" y="1018.5" width="122.5" height="131.5" filter="url(#grain)" opacity="0.3"/>
<g filter="url(#b22)">
<rect x="990.49" y="1056.87" width="34.97" height="5.5" rx="2.75" fill="#b8b8b8" opacity="0.8"/>
<rect x="1041.68" y="1054" width="39.72" height="9" rx="4.5" fill="#4c4c4c" opacity="1"/>
<rect x="982.94" y="1110.57" width="49.51" height="5.5" rx="2.75" fill="#5a5a5a" opacity="1" transform="rotate(-4 1007.69 1113.32)"/>
<rect x="1041.68" y="1108.05" width="45.87" height="5.5" rx="2.75" fill="#6a6a6a" opacity="1" transform="rotate(-1 1064.62 1110.8)"/>
</g>
</g>
<line x1="972.3" y1="1086.7" x2="1094.8" y2="1086.7" stroke="#000" stroke-width="2" stroke-linecap="butt"/>
<rect x="973.3" y="1019.5" width="120.5" height="129.5" fill="none" stroke="#000" stroke-width="2"/>
<text x="963.9" y="1063" font-size="22.8" text-anchor="end"><tspan font-family="Liberation Serif, DejaVu Serif, serif">α</tspan>-Syn</text>
<text x="961.5" y="1119.8" font-size="22.8" text-anchor="end">Actin</text>
<text x="1118.6" y="987.4" font-size="19.5" text-anchor="middle">MW</text>
<text x="1117.8" y="1012.6" font-size="19.5" text-anchor="middle">(kDa)</text>
<line x1="1094.8" y1="1058.8" x2="1101.5" y2="1058.8" stroke="#000" stroke-width="2.5" stroke-linecap="butt"/>
<text x="1103.3" y="1065.6" font-size="19.5" text-anchor="start">14</text>
<line x1="1094.8" y1="1114.7" x2="1101.5" y2="1114.7" stroke="#000" stroke-width="2.5" stroke-linecap="butt"/>
<text x="1103.3" y="1121.5" font-size="19.5" text-anchor="start">41</text>
<text x="997.8" y="1180.61" font-size="26" text-anchor="middle">Ø</text>
<text x="1077" y="1166" font-size="22" text-anchor="end" transform="rotate(-49 1077 1166)">rBapB-PFF</text>
<g clip-path="url(#cp2)">
<rect x="1239.4" y="1014.3" width="120.9" height="133.4" fill="#f9f9f9"/>
<rect x="1239.4" y="1014.3" width="120.9" height="133.4" filter="url(#grain)" opacity="0.3"/>
<g filter="url(#b18)">
<rect x="1249.79" y="1046.88" width="44.2" height="7" rx="3.5" fill="#111" opacity="1"/>
<rect x="1306.57" y="1047.63" width="40.56" height="5.5" rx="2.75" fill="#333" opacity="1"/>
<rect x="1249.23" y="1100.61" width="46.15" height="12" rx="6" fill="#000" opacity="1"/>
<rect x="1291.19" y="1105.61" width="60.14" height="11.5" rx="5.75" fill="#000" opacity="1"/>
</g>
</g>
<line x1="1239.4" y1="1084" x2="1360.3" y2="1084" stroke="#000" stroke-width="2" stroke-linecap="butt"/>
<rect x="1240.4" y="1015.3" width="118.9" height="131.4" fill="none" stroke="#000" stroke-width="2"/>
<text x="1237" y="1058.2" font-size="22.8" text-anchor="end">LAMP2A</text>
<text x="1231.5" y="1114.2" font-size="22.8" text-anchor="end">Actin</text>
<text x="1382.7" y="981.9" font-size="19.5" text-anchor="middle">MW</text>
<text x="1382.1" y="1007" font-size="19.5" text-anchor="middle">(kDa)</text>
<line x1="1360.3" y1="1033.9" x2="1366.9" y2="1033.9" stroke="#000" stroke-width="2.5" stroke-linecap="butt"/>
<text x="1368.8" y="1040.7" font-size="19.5" text-anchor="start">125</text>
<line x1="1360.3" y1="1079.2" x2="1366.9" y2="1079.2" stroke="#000" stroke-width="2.5" stroke-linecap="butt"/>
<text x="1368.8" y="1086" font-size="19.5" text-anchor="start">93</text>
<line x1="1360.3" y1="1117" x2="1366.9" y2="1117" stroke="#000" stroke-width="2.5" stroke-linecap="butt"/>
<text x="1368.8" y="1123.8" font-size="19.5" text-anchor="start">41</text>
<text x="1264.8" y="1179.91" font-size="26" text-anchor="middle">Ø</text>
<text x="1344" y="1163" font-size="22" text-anchor="end" transform="rotate(-49 1344 1163)">rBapB-PFF</text>
</g>
<g id="panel_l">
<text x="10.3" y="1285.2" font-size="48" text-anchor="start">l</text>
<line x1="99.5" y1="1326.3" x2="99.5" y2="1564.3" stroke="#000" stroke-width="3.2" stroke-linecap="butt"/>
<line x1="90.1" y1="1562.7" x2="298.4" y2="1562.7" stroke="#000" stroke-width="3.5" stroke-linecap="butt"/>
<text x="88.6" y="1566.16" font-size="19.8" text-anchor="end">0</text>
<line x1="90.1" y1="1503.8" x2="99.5" y2="1503.8" stroke="#000" stroke-width="3" stroke-linecap="butt"/>
<text x="85.7" y="1508.36" font-size="19.8" text-anchor="end">20</text>
<line x1="90.1" y1="1445.4" x2="99.5" y2="1445.4" stroke="#000" stroke-width="3" stroke-linecap="butt"/>
<text x="85.7" y="1454.36" font-size="19.8" text-anchor="end">40</text>
<line x1="90.1" y1="1386.2" x2="99.5" y2="1386.2" stroke="#000" stroke-width="3" stroke-linecap="butt"/>
<text x="85.7" y="1396.36" font-size="19.8" text-anchor="end">60</text>
<line x1="90.1" y1="1327.8" x2="99.5" y2="1327.8" stroke="#000" stroke-width="3" stroke-linecap="butt"/>
<text x="85.7" y="1334.46" font-size="19.8" text-anchor="end">80</text>
<rect x="109.9" y="1456.3" width="43" height="106.4" fill="#fff" stroke="#000" stroke-width="3"/>
<rect x="176.2" y="1448.7" width="42.7" height="114" fill="#d0d0d0" stroke="#000" stroke-width="3"/>
<rect x="242.7" y="1394.1" width="42.8" height="168.6" fill="#ff807c" stroke="#000" stroke-width="3"/>
<line x1="131.3" y1="1562.7" x2="131.3" y2="1569.5" stroke="#000" stroke-width="3" stroke-linecap="butt"/>
<line x1="198.1" y1="1562.7" x2="198.1" y2="1569.5" stroke="#000" stroke-width="3" stroke-linecap="butt"/>
<line x1="264.6" y1="1562.7" x2="264.6" y2="1569.5" stroke="#000" stroke-width="3" stroke-linecap="butt"/>
<line x1="264.3" y1="1392.6" x2="264.3" y2="1371.22" stroke="#000" stroke-width="3" stroke-linecap="butt"/>
<line x1="252.3" y1="1371.22" x2="276.3" y2="1371.22" stroke="#000" stroke-width="3" stroke-linecap="butt"/>
<line x1="131.5" y1="1454.8" x2="131.5" y2="1453.5" stroke="#000" stroke-width="3" stroke-linecap="butt"/>
<line x1="119.5" y1="1453.5" x2="143.5" y2="1453.5" stroke="#000" stroke-width="3" stroke-linecap="butt"/>
<line x1="197.8" y1="1447.2" x2="197.8" y2="1446.64" stroke="#000" stroke-width="3" stroke-linecap="butt"/>
<line x1="185.8" y1="1446.64" x2="209.8" y2="1446.64" stroke="#000" stroke-width="3" stroke-linecap="butt"/>
<circle cx="123.92" cy="1450.96" r="4"/>
<circle cx="131.28" cy="1457.56" r="4"/>
<circle cx="139.16" cy="1455.02" r="4"/>
<circle cx="190.45" cy="1444.87" r="4"/>
<circle cx="198.07" cy="1449.18" r="4"/>
<circle cx="205.69" cy="1447.91" r="4"/>
<circle cx="264.6" cy="1350.66" r="4"/>
<circle cx="264.6" cy="1405.51" r="4"/>
<circle cx="264.6" cy="1422.01" r="4"/>
<line x1="127" y1="1338.7" x2="265.4" y2="1338.7" stroke="#000" stroke-width="3" stroke-linecap="butt"/>
<text x="198.1" y="1334.2" font-size="28" text-anchor="middle">*</text>
<text x="49" y="1500" font-size="22" text-anchor="start" transform="rotate(-90 49 1500)" textLength="128.3" lengthAdjust="spacing"><tspan font-family="Liberation Serif, DejaVu Serif, serif">α</tspan>-Syn (% CT)</text>
<text x="128.2" y="1594.31" font-size="26" text-anchor="middle">Ø</text>
<text x="204" y="1584" font-size="22" text-anchor="end" transform="rotate(-47.5 204 1584)">rBapB-MON</text>
<text x="270.8" y="1584" font-size="22" text-anchor="end" transform="rotate(-47.5 270.8 1584)">rBapB-PFF</text>
</g>
<g id="panel_o">
<text x="1463.5" y="1284.3" font-size="48" text-anchor="start">o</text>
<line x1="1518.6" y1="1327.1" x2="1518.6" y2="1567.9" stroke="#000" stroke-width="3.2" stroke-linecap="butt"/>
<line x1="1510" y1="1566.3" x2="1706.6" y2="1566.3" stroke="#000" stroke-width="3.5" stroke-linecap="butt"/>
<text x="1505" y="1568.36" font-size="20.9" text-anchor="end">0</text>
<line x1="1510" y1="1506.6" x2="1518.6" y2="1506.6" stroke="#000" stroke-width="3" stroke-linecap="butt"/>
<text x="1505" y="1513.76" font-size="20.9" text-anchor="end">100</text>
<line x1="1510" y1="1447.1" x2="1518.6" y2="1447.1" stroke="#000" stroke-width="3" stroke-linecap="butt"/>
<text x="1505" y="1454.76" font-size="20.9" text-anchor="end">200</text>
<line x1="1510" y1="1387.7" x2="1518.6" y2="1387.7" stroke="#000" stroke-width="3" stroke-linecap="butt"/>
<text x="1505" y="1396.16" font-size="20.9" text-anchor="end">300</text>
<line x1="1510" y1="1328.6" x2="1518.6" y2="1328.6" stroke="#000" stroke-width="3" stroke-linecap="butt"/>
<text x="1505" y="1338.16" font-size="20.9" text-anchor="end">400</text>
<rect x="1529.2" y="1508.1" width="39.9" height="58.2" fill="#fff" stroke="#000" stroke-width="3"/>
<rect x="1590.9" y="1496.4" width="42.2" height="69.9" fill="#d0d0d0" stroke="#000" stroke-width="3"/>
<rect x="1654.9" y="1445.2" width="39.3" height="121.1" fill="#ff807c" stroke="#000" stroke-width="3"/>
<line x1="1549.4" y1="1566.3" x2="1549.4" y2="1573.7" stroke="#000" stroke-width="3" stroke-linecap="butt"/>
<line x1="1612.3" y1="1566.3" x2="1612.3" y2="1573.7" stroke="#000" stroke-width="3" stroke-linecap="butt"/>
<line x1="1674.6" y1="1566.3" x2="1674.6" y2="1573.7" stroke="#000" stroke-width="3" stroke-linecap="butt"/>
<line x1="1549.71" y1="1506.6" x2="1549.71" y2="1502.86" stroke="#000" stroke-width="3" stroke-linecap="butt"/>
<line x1="1538.21" y1="1502.86" x2="1561.21" y2="1502.86" stroke="#000" stroke-width="3" stroke-linecap="butt"/>
<line x1="1612" y1="1494.9" x2="1612" y2="1487.14" stroke="#000" stroke-width="3" stroke-linecap="butt"/>
<line x1="1600.5" y1="1487.14" x2="1623.5" y2="1487.14" stroke="#000" stroke-width="3" stroke-linecap="butt"/>
<line x1="1674.86" y1="1443.7" x2="1674.86" y2="1408" stroke="#000" stroke-width="3" stroke-linecap="butt"/>
<line x1="1663.36" y1="1408" x2="1686.36" y2="1408" stroke="#000" stroke-width="3" stroke-linecap="butt"/>
<circle cx="1544.29" cy="1502.29" r="4"/>
<circle cx="1551.43" cy="1504.29" r="4"/>
<circle cx="1551.43" cy="1514.29" r="4"/>
<circle cx="1613.71" cy="1479.43" r="4"/>
<circle cx="1613.71" cy="1503.71" r="4"/>
<circle cx="1620.86" cy="1501.43" r="4"/>
<circle cx="1676.29" cy="1372.29" r="4"/>
<circle cx="1676.29" cy="1480" r="4"/>
<circle cx="1683.43" cy="1480" r="4"/>
<line x1="1553.4" y1="1354.9" x2="1682" y2="1354.9" stroke="#000" stroke-width="3" stroke-linecap="butt"/>
<text x="1622.9" y="1350.4" font-size="28" text-anchor="middle">*</text>
<text x="1458.6" y="1500" font-size="22" text-anchor="start" transform="rotate(-90 1458.6 1500)" textLength="127.1" lengthAdjust="spacing"><tspan font-family="Liberation Serif, DejaVu Serif, serif">α</tspan>-Syn (% CT)</text>
<text x="1545.1" y="1599.31" font-size="26" text-anchor="middle">Ø</text>
<text x="1617.6" y="1593" font-size="22" text-anchor="end" transform="rotate(-48 1617.6 1593)">rBapB-MON</text>
<text x="1690.4" y="1594" font-size="22" text-anchor="end" transform="rotate(-48 1690.4 1594)">rBapB-PFF</text>
<line x1="1803.4" y1="1321.4" x2="1803.4" y2="1564.5" stroke="#000" stroke-width="3.2" stroke-linecap="butt"/>
<line x1="1795.7" y1="1562.9" x2="1988.6" y2="1562.9" stroke="#000" stroke-width="3.5" stroke-linecap="butt"/>
<text x="1790" y="1568.66" font-size="20.9" text-anchor="end">0</text>
<line x1="1795.7" y1="1503.4" x2="1803.4" y2="1503.4" stroke="#000" stroke-width="3" stroke-linecap="butt"/>
<text x="1790" y="1517.06" font-size="20.9" text-anchor="end">50</text>
<line x1="1795.7" y1="1443.4" x2="1803.4" y2="1443.4" stroke="#000" stroke-width="3" stroke-linecap="butt"/>
<text x="1790" y="1457.36" font-size="20.9" text-anchor="end">100</text>
<line x1="1795.7" y1="1383.4" x2="1803.4" y2="1383.4" stroke="#000" stroke-width="3" stroke-linecap="butt"/>
<text x="1790" y="1398.26" font-size="20.9" text-anchor="end">150</text>
<line x1="1795.7" y1="1322.9" x2="1803.4" y2="1322.9" stroke="#000" stroke-width="3" stroke-linecap="butt"/>
<text x="1790" y="1339.76" font-size="20.9" text-anchor="end">200</text>
<rect x="1814.4" y="1444.9" width="39.2" height="118" fill="#fff" stroke="#000" stroke-width="3"/>
<rect x="1876.1" y="1442.1" width="38.7" height="120.8" fill="#d0d0d0" stroke="#000" stroke-width="3"/>
<rect x="1937.8" y="1472.1" width="38.7" height="90.8" fill="#ff807c" stroke="#000" stroke-width="3"/>
<line x1="1833.4" y1="1562.9" x2="1833.4" y2="1570.9" stroke="#000" stroke-width="3" stroke-linecap="butt"/>
<line x1="1895.7" y1="1562.9" x2="1895.7" y2="1570.9" stroke="#000" stroke-width="3" stroke-linecap="butt"/>
<line x1="1957.1" y1="1562.9" x2="1957.1" y2="1570.9" stroke="#000" stroke-width="3" stroke-linecap="butt"/>
<line x1="1833.71" y1="1443.4" x2="1833.71" y2="1430.57" stroke="#000" stroke-width="3" stroke-linecap="butt"/>
<line x1="1822.21" y1="1430.57" x2="1845.21" y2="1430.57" stroke="#000" stroke-width="3" stroke-linecap="butt"/>
<line x1="1895.71" y1="1440.6" x2="1895.71" y2="1402.29" stroke="#000" stroke-width="3" stroke-linecap="butt"/>
<line x1="1884.21" y1="1402.29" x2="1907.21" y2="1402.29" stroke="#000" stroke-width="3" stroke-linecap="butt"/>
<line x1="1956.86" y1="1470.6" x2="1956.86" y2="1440.86" stroke="#000" stroke-width="3" stroke-linecap="butt"/>
<line x1="1945.36" y1="1440.86" x2="1968.36" y2="1440.86" stroke="#000" stroke-width="3" stroke-linecap="butt"/>
<circle cx="1834.86" cy="1418.57" r="4"/>
<circle cx="1834.86" cy="1450.57" r="4"/>
<circle cx="1834.86" cy="1462.86" r="4"/>
<circle cx="1895.71" cy="1366.29" r="4"/>
<circle cx="1895.71" cy="1469.43" r="4"/>
<circle cx="1895.71" cy="1489.43" r="4"/>
<circle cx="1957.14" cy="1420" r="4"/>
<circle cx="1957.14" cy="1472.86" r="4"/>
<circle cx="1957.14" cy="1521.43" r="4"/>
<text x="1743.7" y="1522.9" font-size="22" text-anchor="start" transform="rotate(-90 1743.7 1522.9)" textLength="157.8" lengthAdjust="spacing">LAMP2A  (% CT)</text>
<text x="1836.3" y="1597.91" font-size="26" text-anchor="middle">Ø</text>
<text x="1910.6" y="1595.3" font-size="22" text-anchor="end" transform="rotate(-48 1910.6 1595.3)">rBapB-MON</text>
<text x="1976.4" y="1595" font-size="22" text-anchor="end" transform="rotate(-48 1976.4 1595)">rBapB-PFF</text>
</g>
<g id="panel_m">
<text x="321.5" y="1285.5" font-size="48" text-anchor="start">m</text>
<g clip-path="url(#cp3)">
<rect x="443.9" y="1333.5" width="349.5" height="256.2" fill="#f7f7f7"/>
<rect x="443.9" y="1333.5" width="349.5" height="256.2" filter="url(#grain)" opacity="0.4"/>
<g filter="url(#b22)">
<rect x="460.21" y="1369.38" width="50.7" height="13" rx="6.5" fill="#0a0a0a" opacity="1" transform="rotate(3 485.56 1375.88)"/>
<rect x="522.5" y="1373.48" width="57.94" height="13.5" rx="6.75" fill="#050505" opacity="1"/>
<rect x="592.61" y="1376.07" width="54.18" height="6" rx="3" fill="#6a6a6a" opacity="1"/>
<rect x="662.14" y="1376.03" width="51.57" height="5.5" rx="2.75" fill="#7c7c7c" opacity="1"/>
<rect x="731.67" y="1375.7" width="46.35" height="5" rx="2.5" fill="#d6d6d6" opacity="1"/>
<rect x="462.24" y="1395.48" width="46.35" height="6" rx="3" fill="#d0d0d0" opacity="1"/>
<rect x="528.87" y="1398.01" width="46.35" height="5" rx="2.5" fill="#d6d6d6" opacity="1"/>
<rect x="447.17" y="1469.88" width="56.2" height="12.5" rx="6.25" fill="#0a0a0a" opacity="1"/>
<rect x="515.84" y="1469.72" width="54.18" height="10.5" rx="5.25" fill="#1c1c1c" opacity="1"/>
<rect x="583.92" y="1470.39" width="52.73" height="8" rx="4" fill="#484848" opacity="1"/>
<rect x="650.55" y="1467.98" width="51.57" height="10.5" rx="5.25" fill="#1a1a1a" opacity="1"/>
<rect x="720.08" y="1465.17" width="46.93" height="8" rx="4" fill="#484848" opacity="1" transform="rotate(-4 743.55 1469.17)"/>
<rect x="518.73" y="1496.51" width="49.25" height="5" rx="2.5" fill="#d2d2d2" opacity="1"/>
<rect x="473.25" y="1547.01" width="53.31" height="17" rx="8.5" fill="#000" opacity="1"/>
<rect x="538.14" y="1547.19" width="52.15" height="12" rx="6" fill="#080808" opacity="1" transform="rotate(-2 564.22 1553.19)"/>
<rect x="604.2" y="1546.95" width="49.83" height="9" rx="4.5" fill="#222" opacity="1" transform="rotate(-4 629.11 1551.45)"/>
<rect x="667.93" y="1545.5" width="49.83" height="9" rx="4.5" fill="#222" opacity="1" transform="rotate(-4 692.85 1550)"/>
<rect x="731.67" y="1542.93" width="49.83" height="9.5" rx="4.75" fill="#181818" opacity="1" transform="rotate(-1 756.59 1547.68)"/>
<rect x="479.62" y="1575.02" width="40.56" height="5" rx="2.5" fill="#bdbdbd" opacity="1"/>
<rect x="543.36" y="1575.27" width="40.56" height="4.5" rx="2.25" fill="#d0d0d0" opacity="1"/>
</g>
</g>
<line x1="443.9" y1="1425.7" x2="793.4" y2="1425.7" stroke="#000" stroke-width="2.6" stroke-linecap="butt"/>
<line x1="443.9" y1="1516.4" x2="793.4" y2="1516.4" stroke="#000" stroke-width="2.6" stroke-linecap="butt"/>
<rect x="445.2" y="1334.8" width="346.9" height="253.6" fill="none" stroke="#000" stroke-width="2.6"/>
<text x="382.3" y="1326.1" font-size="21.3" text-anchor="start">Hours</text>
<text x="484.8" y="1320.8" font-size="21" text-anchor="middle">0</text>
<text x="554.4" y="1320.8" font-size="21" text-anchor="middle">12</text>
<text x="629.4" y="1320.8" font-size="21" text-anchor="middle">24</text>
<text x="699.8" y="1320.8" font-size="21" text-anchor="middle">36</text>
<text x="762.7" y="1320.8" font-size="21" text-anchor="middle">48</text>
<text x="823.5" y="1302" font-size="19.5" text-anchor="middle">MW</text>
<text x="822.9" y="1326.6" font-size="19.5" text-anchor="middle">(kDa)</text>
<text x="412.4" y="1389.51" font-size="26" text-anchor="middle">Ø</text>
<text x="435" y="1480.2" font-size="21.4" text-anchor="end">rBapB-MON</text>
<text x="430" y="1561.3" font-size="21.4" text-anchor="end">rBapB-PFF</text>
<line x1="796" y1="1379.4" x2="803.5" y2="1379.4" stroke="#000" stroke-width="2.5" stroke-linecap="butt"/>
<text x="805.5" y="1386.7" font-size="19.5" text-anchor="start">14</text>
<line x1="796" y1="1468" x2="803.5" y2="1468" stroke="#000" stroke-width="2.5" stroke-linecap="butt"/>
<text x="805.5" y="1475.3" font-size="19.5" text-anchor="start">14</text>
<line x1="796" y1="1547.7" x2="803.5" y2="1547.7" stroke="#000" stroke-width="2.5" stroke-linecap="butt"/>
<text x="805.5" y="1555" font-size="19.5" text-anchor="start">14</text>
</g>
<g id="panel_n">
<text x="890.5" y="1285.5" font-size="48" text-anchor="start">n</text>
<g clip-path="url(#cp4)">
<rect x="915.8" y="1346.9" width="161" height="151.4" fill="#f7f7f7"/>
<rect x="915.8" y="1346.9" width="161" height="151.4" filter="url(#grain)" opacity="0.4"/>
<g filter="url(#b22)">
<rect x="924.81" y="1381.02" width="41.66" height="8.5" rx="4.25" fill="#a2a2a2" opacity="1"/>
<rect x="926.31" y="1403.85" width="23.08" height="6" rx="3" fill="#c4c4c4" opacity="1"/>
<rect x="977.86" y="1384.37" width="39.56" height="9" rx="4.5" fill="#505050" opacity="1" transform="rotate(-3 997.64 1388.87)"/>
<rect x="981.76" y="1403.85" width="34.47" height="6" rx="3" fill="#b6b6b6" opacity="1"/>
<rect x="1025.81" y="1381.87" width="45.55" height="14" rx="7" fill="#060606" opacity="1"/>
<rect x="1031.81" y="1405.85" width="32.97" height="5" rx="2.5" fill="#dcdcdc" opacity="1"/>
<rect x="927.51" y="1451.85" width="41.96" height="9.5" rx="4.75" fill="#585858" opacity="1"/>
<rect x="977.26" y="1453.1" width="41.66" height="10" rx="5" fill="#6c6c6c" opacity="1"/>
<rect x="1027.31" y="1453.9" width="39.56" height="6" rx="3" fill="#8e8e8e" opacity="1"/>
</g>
</g>
<line x1="915.8" y1="1429.3" x2="1076.8" y2="1429.3" stroke="#000" stroke-width="2.2" stroke-linecap="butt"/>
<rect x="916.9" y="1348" width="158.8" height="149.2" fill="none" stroke="#000" stroke-width="2.2"/>
<text x="908.5" y="1403.9" font-size="22" text-anchor="end"><tspan font-family="Liberation Serif, DejaVu Serif, serif">α</tspan>-Syn</text>
<text x="910.5" y="1457.2" font-size="22" text-anchor="end">Actin</text>
<text x="1103.1" y="1313.9" font-size="19.5" text-anchor="middle">MW</text>
<text x="1102.2" y="1338.5" font-size="19.5" text-anchor="middle">(kDa)</text>
<line x1="1076.8" y1="1383.8" x2="1085.2" y2="1383.8" stroke="#000" stroke-width="2.5" stroke-linecap="butt"/>
<text x="1087" y="1390.9" font-size="19.5" text-anchor="start">14</text>
<line x1="1076.8" y1="1462.9" x2="1085.2" y2="1462.9" stroke="#000" stroke-width="2.5" stroke-linecap="butt"/>
<text x="1087" y="1470" font-size="19.5" text-anchor="start">41</text>
<text x="941.3" y="1524.01" font-size="26" text-anchor="middle">Ø</text>
<text x="1003.5" y="1509" font-size="22" text-anchor="end" transform="rotate(-48 1003.5 1509)">rBapB-MON</text>
<text x="1051.5" y="1513" font-size="22" text-anchor="end" transform="rotate(-48 1051.5 1513)">rBapB-PFF</text>
<g clip-path="url(#cp5)">
<rect x="1217" y="1345.4" width="157.4" height="150.5" fill="#eeeeee"/>
<rect x="1217" y="1420.9" width="158" height="76" fill="#f8f8f8"/>
<rect x="1217" y="1345.4" width="157.4" height="150.5" filter="url(#grain)" opacity="0.5"/>
<g filter="url(#b22)">
<rect x="1239.5" y="1376.28" width="32.67" height="12" rx="6" fill="#8c8c8c" opacity="1"/>
<rect x="1284.45" y="1376.28" width="32.67" height="12" rx="6" fill="#868686" opacity="1"/>
<rect x="1329.41" y="1376.48" width="29.67" height="11" rx="5.5" fill="#a0a0a0" opacity="1"/>
<rect x="1230.51" y="1453.1" width="43.46" height="19" rx="9.5" fill="#000" opacity="1"/>
<rect x="1278.16" y="1453.69" width="38.96" height="19" rx="9.5" fill="#000" opacity="1"/>
<rect x="1318.92" y="1453.6" width="38.66" height="18" rx="9" fill="#000" opacity="1"/>
</g>
</g>
<line x1="1217" y1="1420.9" x2="1374.4" y2="1420.9" stroke="#000" stroke-width="2.2" stroke-linecap="butt"/>
<rect x="1218.1" y="1346.5" width="155.2" height="148.3" fill="none" stroke="#000" stroke-width="2.2"/>
<text x="1214" y="1403.9" font-size="22" text-anchor="end">LAMP2A</text>
<text x="1196.5" y="1464.4" font-size="22" text-anchor="end">Actin</text>
<text x="1402.5" y="1313.9" font-size="19.5" text-anchor="middle">MW</text>
<text x="1401.9" y="1338.5" font-size="19.5" text-anchor="middle">(kDa)</text>
<line x1="1374.4" y1="1361" x2="1384" y2="1361" stroke="#000" stroke-width="2.5" stroke-linecap="butt"/>
<text x="1386.5" y="1368.1" font-size="19.5" text-anchor="start">125</text>
<line x1="1374.4" y1="1406.3" x2="1384" y2="1406.3" stroke="#000" stroke-width="2.5" stroke-linecap="butt"/>
<text x="1386.5" y="1413.4" font-size="19.5" text-anchor="start">93</text>
<line x1="1374.4" y1="1465.9" x2="1384" y2="1465.9" stroke="#000" stroke-width="2.5" stroke-linecap="butt"/>
<text x="1386.5" y="1473" font-size="19.5" text-anchor="start">41</text>
<text x="1246.1" y="1523.41" font-size="26" text-anchor="middle">Ø</text>
<text x="1305.4" y="1509" font-size="22" text-anchor="end" transform="rotate(-48 1305.4 1509)">rBapB-MON</text>
<text x="1357" y="1513" font-size="22" text-anchor="end" transform="rotate(-48 1357 1513)">rBapB-PFF</text>
</g>
</svg>
</body></html>
